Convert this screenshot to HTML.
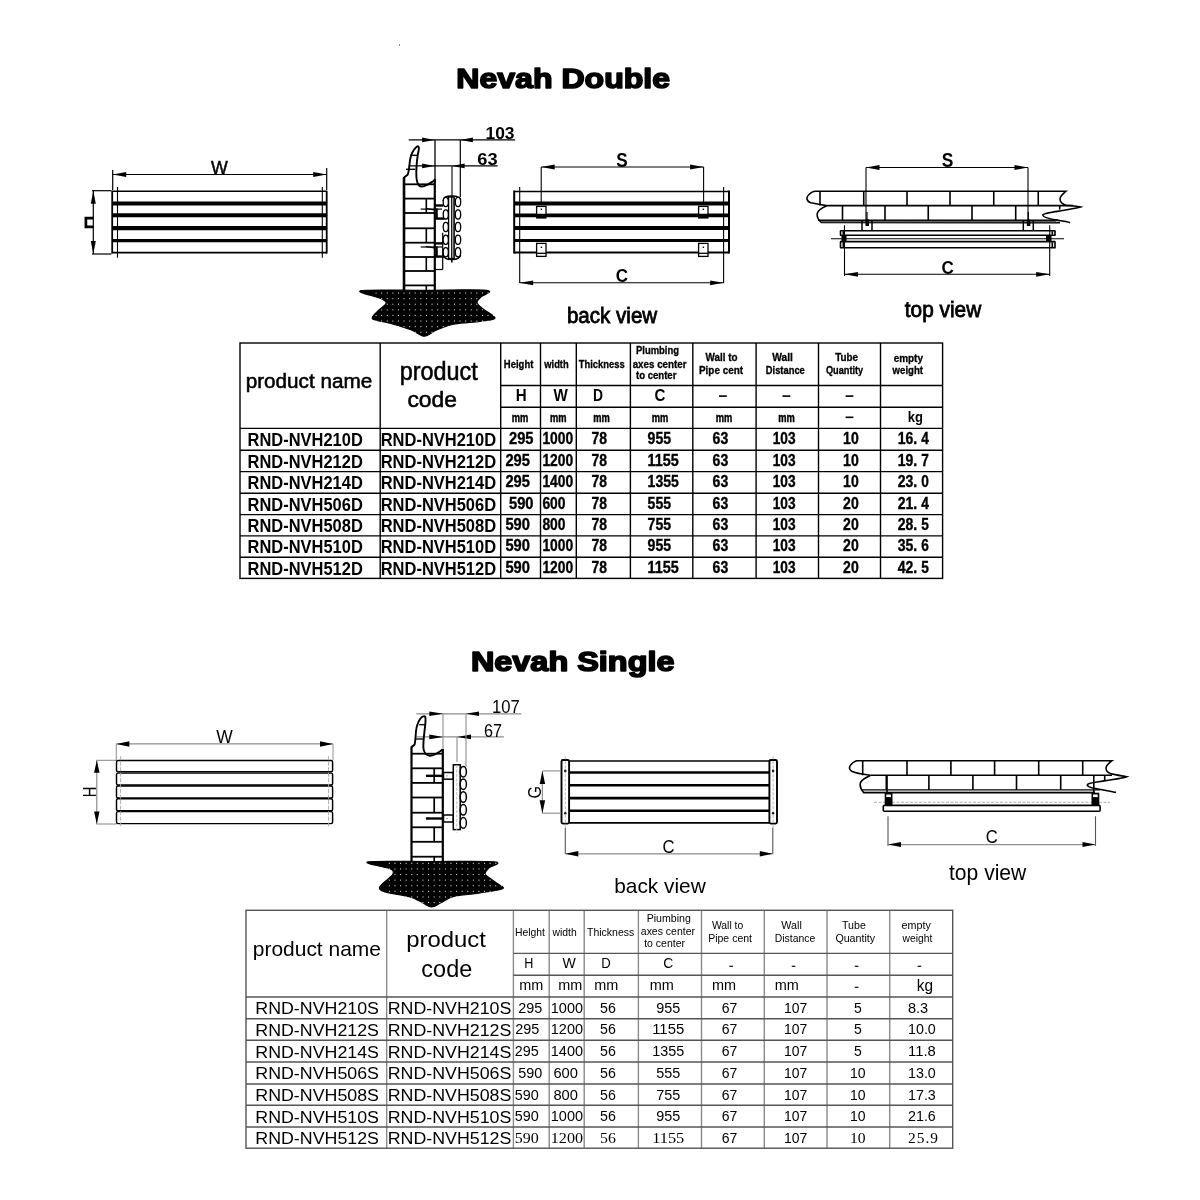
<!DOCTYPE html>
<html><head><meta charset="utf-8"><title>Nevah</title>
<style>html,body{margin:0;padding:0;background:#fff;} svg{display:block;will-change:transform;}</style></head>
<body><svg width="1200" height="1200" viewBox="0 0 1200 1200">
<rect width="1200" height="1200" fill="#fff"/>
<text x="456.3" y="88.2" font-size="28" font-family="Liberation Sans" font-weight="bold" text-anchor="start" fill="#000" textLength="213.8" lengthAdjust="spacingAndGlyphs" stroke="#000" stroke-width="1.6" stroke-linejoin="round">Nevah Double</text>
<rect x="399" y="44" width="1" height="2" fill="#888" />
<line x1="112.7" y1="174.5" x2="326.7" y2="174.5" stroke="#000" stroke-width="1.2" />
<path d="M112.7,174.5 L126.20,172.10 L126.20,176.90 Z" fill="#000"/>
<path d="M326.7,174.5 L313.20,176.90 L313.20,172.10 Z" fill="#000"/>
<line x1="112.7" y1="170" x2="112.7" y2="190" stroke="#000" stroke-width="1.2" />
<line x1="326.7" y1="168" x2="326.7" y2="190" stroke="#000" stroke-width="1.2" />
<text x="219.4" y="173.9" font-size="19.2" font-family="Liberation Sans" font-weight="normal" text-anchor="middle" fill="#000" textLength="16.8" lengthAdjust="spacingAndGlyphs" stroke="#000" stroke-width="0.5">W</text>
<line x1="93.3" y1="190.7" x2="93.3" y2="254" stroke="#000" stroke-width="1.2" />
<path d="M93.3,190.7 L95.80,203.70 L90.80,203.70 Z" fill="#000"/>
<path d="M93.3,254 L90.80,241.00 L95.80,241.00 Z" fill="#000"/>
<line x1="92" y1="190.7" x2="111.5" y2="190.7" stroke="#000" stroke-width="1.2" />
<line x1="92" y1="254" x2="111.5" y2="254" stroke="#000" stroke-width="1.2" />
<path d="M93.5,218.2 H85.9 V226.8 H93.5" stroke="#000" stroke-width="2.7" fill="none" />
<line x1="112.2" y1="190.8" x2="112.2" y2="253.5" stroke="#000" stroke-width="1.8" />
<line x1="326.7" y1="190.8" x2="326.7" y2="253.5" stroke="#000" stroke-width="1.8" />
<line x1="117.5" y1="187" x2="117.5" y2="257.7" stroke="#000" stroke-width="1.1" />
<line x1="322.3" y1="187" x2="322.3" y2="257.7" stroke="#000" stroke-width="1.1" />
<line x1="112.2" y1="191.3" x2="326.7" y2="191.3" stroke="#000" stroke-width="1.5" />
<line x1="112.2" y1="203.5" x2="326.7" y2="203.5" stroke="#000" stroke-width="4" />
<line x1="112.2" y1="215.3" x2="326.7" y2="215.3" stroke="#000" stroke-width="4" />
<line x1="112.2" y1="228.2" x2="326.7" y2="228.2" stroke="#000" stroke-width="4.2" />
<line x1="112.2" y1="240.7" x2="326.7" y2="240.7" stroke="#000" stroke-width="3.2" />
<line x1="112.2" y1="252.7" x2="326.7" y2="252.7" stroke="#000" stroke-width="1.8" />
<line x1="408.7" y1="139.9" x2="515.2" y2="139.9" stroke="#000" stroke-width="1.2" />
<path d="M434.6,139.9 L422.10,142.20 L422.10,137.60 Z" fill="#000"/>
<path d="M460.4,139.9 L472.90,137.60 L472.90,142.20 Z" fill="#000"/>
<text x="485.5" y="138.8" font-size="16.5" font-family="Liberation Sans" font-weight="bold" text-anchor="start" fill="#000" textLength="29" lengthAdjust="spacingAndGlyphs" >103</text>
<line x1="408.7" y1="165.9" x2="497.6" y2="165.9" stroke="#000" stroke-width="1.2" />
<path d="M434.6,165.9 L422.10,168.20 L422.10,163.60 Z" fill="#000"/>
<path d="M452.1,165.9 L464.60,163.60 L464.60,168.20 Z" fill="#000"/>
<text x="477.3" y="164.6" font-size="16.5" font-family="Liberation Sans" font-weight="bold" text-anchor="start" fill="#000" textLength="20.3" lengthAdjust="spacingAndGlyphs" >63</text>
<line x1="435" y1="139.9" x2="435" y2="182" stroke="#000" stroke-width="1.3" />
<line x1="460.3" y1="139.9" x2="460.3" y2="197" stroke="#000" stroke-width="1.2" />
<line x1="452" y1="165.9" x2="452" y2="262.4" stroke="#000" stroke-width="1.1" />
<line x1="404" y1="177.5" x2="404" y2="290.5" stroke="#000" stroke-width="2.6" />
<line x1="434.8" y1="179" x2="434.8" y2="290.5" stroke="#000" stroke-width="2.2" />
<path d="M403.7,178.5 C404.5,176 407,176 407.8,174.5 C409,171 409.3,166 410,160 C411,154 414,149 417,146.5 C419,145.5 419.2,148 418.6,150.5 C417,158 416.5,165 416.3,172 C416.2,178 416.5,183 419,185.5 C421,187.5 424,186.5 427,185 C430,183.5 432.5,181.5 435,180" stroke="#000" stroke-width="1.9" fill="none" />
<line x1="410.3" y1="155.3" x2="417" y2="155.3" stroke="#000" stroke-width="1.4" />
<line x1="406" y1="169.3" x2="415.3" y2="169.3" stroke="#000" stroke-width="1.4" />
<line x1="405" y1="184.3" x2="434" y2="184.3" stroke="#000" stroke-width="1.8" />
<line x1="405" y1="198.6" x2="434" y2="198.6" stroke="#000" stroke-width="1.8" />
<line x1="405" y1="213" x2="434" y2="213" stroke="#000" stroke-width="1.8" />
<line x1="405" y1="228.3" x2="434" y2="228.3" stroke="#000" stroke-width="1.8" />
<line x1="405" y1="242.7" x2="434" y2="242.7" stroke="#000" stroke-width="1.8" />
<line x1="405" y1="257" x2="434" y2="257" stroke="#000" stroke-width="1.8" />
<line x1="405" y1="271" x2="434" y2="271" stroke="#000" stroke-width="1.8" />
<line x1="405" y1="285.4" x2="434" y2="285.4" stroke="#000" stroke-width="1.8" />
<line x1="426.3" y1="198.6" x2="426.3" y2="213" stroke="#000" stroke-width="1.6" />
<line x1="426.3" y1="228.3" x2="426.3" y2="242.7" stroke="#000" stroke-width="1.6" />
<line x1="426.3" y1="257" x2="426.3" y2="271" stroke="#000" stroke-width="1.6" />
<line x1="426.3" y1="285.4" x2="426.3" y2="290" stroke="#000" stroke-width="1.6" />
<line x1="435" y1="205.5" x2="443.5" y2="205.5" stroke="#000" stroke-width="2.4" />
<line x1="435" y1="218.6" x2="444.5" y2="218.6" stroke="#000" stroke-width="2.4" />
<line x1="436.8" y1="208.5" x2="436.8" y2="218.6" stroke="#000" stroke-width="2" />
<line x1="420.7" y1="209.1" x2="442" y2="209.1" stroke="#000" stroke-width="1.2" />
<path d="M426,208.7 C429,208.3 431,210.1 435,209.9" stroke="#000" stroke-width="1.3" fill="none" />
<line x1="435" y1="243.4" x2="443.5" y2="243.4" stroke="#000" stroke-width="2.4" />
<line x1="435" y1="256.6" x2="444.5" y2="256.6" stroke="#000" stroke-width="2.4" />
<line x1="436.8" y1="246.4" x2="436.8" y2="256.6" stroke="#000" stroke-width="2" />
<line x1="420.7" y1="247.0" x2="442" y2="247.0" stroke="#000" stroke-width="1.2" />
<path d="M426,246.6 C429,246.20000000000002 431,248.0 435,247.8" stroke="#000" stroke-width="1.3" fill="none" />
<line x1="442.7" y1="232.7" x2="442.7" y2="269.5" stroke="#000" stroke-width="1.2" />
<line x1="435" y1="269.5" x2="442.7" y2="269.5" stroke="#000" stroke-width="1.2" />
<path d="M443.2,201 C443.5,197 446,196 451.8,196 C457.5,196 460.2,197 460.6,200" stroke="#000" stroke-width="1.5" fill="none" />
<path d="M443.4,254 C443.8,258.5 446,259.5 451.8,259.5 C457.5,259.5 460,258.5 460.6,255" stroke="#000" stroke-width="1.5" fill="none" />
<ellipse cx="445.8" cy="202" rx="2.6" ry="4.6" stroke="#000" stroke-width="1.3" fill="#fff"/>
<ellipse cx="458" cy="202" rx="2.7" ry="4.6" stroke="#000" stroke-width="1.3" fill="#fff"/>
<ellipse cx="445.8" cy="214.4" rx="2.6" ry="4.6" stroke="#000" stroke-width="1.3" fill="#fff"/>
<ellipse cx="458" cy="214.4" rx="2.7" ry="4.6" stroke="#000" stroke-width="1.3" fill="#fff"/>
<ellipse cx="445.8" cy="227" rx="2.6" ry="4.6" stroke="#000" stroke-width="1.3" fill="#fff"/>
<ellipse cx="458" cy="227" rx="2.7" ry="4.6" stroke="#000" stroke-width="1.3" fill="#fff"/>
<ellipse cx="445.8" cy="239.7" rx="2.6" ry="4.6" stroke="#000" stroke-width="1.3" fill="#fff"/>
<ellipse cx="458" cy="239.7" rx="2.7" ry="4.6" stroke="#000" stroke-width="1.3" fill="#fff"/>
<ellipse cx="445.8" cy="252.3" rx="2.6" ry="4.6" stroke="#000" stroke-width="1.3" fill="#fff"/>
<ellipse cx="458" cy="252.3" rx="2.7" ry="4.6" stroke="#000" stroke-width="1.3" fill="#fff"/>
<rect x="448.6" y="197" width="5.6" height="61.5" stroke="#000" stroke-width="1.3" fill="#fff" />
<line x1="451.6" y1="197" x2="451.6" y2="262.4" stroke="#000" stroke-width="1" />
<line x1="453.1" y1="197" x2="453.1" y2="258" stroke="#000" stroke-width="0.8" />
<path d="M361.25,290.60 C368.58,289.30 403.17,290.33 424.00,290.30 C444.83,290.27 476.75,289.28 486.25,290.40 C495.75,291.52 482.54,294.98 481.00,297.00 C479.46,299.02 476.67,300.50 477.00,302.50 C477.33,304.50 480.00,306.40 483.00,309.00 C486.00,311.60 495.50,316.05 495.00,318.10 C494.50,320.15 486.67,320.32 480.00,321.30 C473.33,322.28 462.25,322.55 455.00,324.00 C447.75,325.45 441.60,327.97 436.50,330.00 C431.40,332.03 428.57,336.20 424.40,336.20 C420.23,336.20 416.82,332.07 411.50,330.00 C406.18,327.93 398.58,325.47 392.50,323.80 C386.42,322.13 378.33,321.13 375.00,320.00 C371.67,318.87 371.83,318.67 372.50,317.00 C373.17,315.33 376.72,312.32 379.00,310.00 C381.28,307.68 386.03,305.08 386.20,303.10 C386.37,301.12 384.16,300.18 380.00,298.10 C375.84,296.02 353.92,291.90 361.25,290.60 Z" fill="#000" stroke="#000" stroke-width="1.2" stroke-linejoin="round"/>
<g fill="#fff" opacity="0.8">
<rect x="375.50" y="292.50" width="1.1" height="1.1"/>
<rect x="381.10" y="292.50" width="1.1" height="1.1"/>
<rect x="386.70" y="292.50" width="1.1" height="1.1"/>
<rect x="392.30" y="292.50" width="1.1" height="1.1"/>
<rect x="397.90" y="292.50" width="1.1" height="1.1"/>
<rect x="403.50" y="292.50" width="1.1" height="1.1"/>
<rect x="409.10" y="292.50" width="1.1" height="1.1"/>
<rect x="414.70" y="292.50" width="1.1" height="1.1"/>
<rect x="420.30" y="292.50" width="1.1" height="1.1"/>
<rect x="425.90" y="292.50" width="1.1" height="1.1"/>
<rect x="431.50" y="292.50" width="1.1" height="1.1"/>
<rect x="437.10" y="292.50" width="1.1" height="1.1"/>
<rect x="442.70" y="292.50" width="1.1" height="1.1"/>
<rect x="448.30" y="292.50" width="1.1" height="1.1"/>
<rect x="453.90" y="292.50" width="1.1" height="1.1"/>
<rect x="459.50" y="292.50" width="1.1" height="1.1"/>
<rect x="465.10" y="292.50" width="1.1" height="1.1"/>
<rect x="470.70" y="292.50" width="1.1" height="1.1"/>
<rect x="476.30" y="292.50" width="1.1" height="1.1"/>
<rect x="481.90" y="292.50" width="1.1" height="1.1"/>
<rect x="487.50" y="292.50" width="1.1" height="1.1"/>
<rect x="493.10" y="292.50" width="1.1" height="1.1"/>
<rect x="375.50" y="298.10" width="1.1" height="1.1"/>
<rect x="381.10" y="298.10" width="1.1" height="1.1"/>
<rect x="386.70" y="298.10" width="1.1" height="1.1"/>
<rect x="392.30" y="298.10" width="1.1" height="1.1"/>
<rect x="397.90" y="298.10" width="1.1" height="1.1"/>
<rect x="403.50" y="298.10" width="1.1" height="1.1"/>
<rect x="409.10" y="298.10" width="1.1" height="1.1"/>
<rect x="414.70" y="298.10" width="1.1" height="1.1"/>
<rect x="420.30" y="298.10" width="1.1" height="1.1"/>
<rect x="425.90" y="298.10" width="1.1" height="1.1"/>
<rect x="431.50" y="298.10" width="1.1" height="1.1"/>
<rect x="437.10" y="298.10" width="1.1" height="1.1"/>
<rect x="442.70" y="298.10" width="1.1" height="1.1"/>
<rect x="448.30" y="298.10" width="1.1" height="1.1"/>
<rect x="453.90" y="298.10" width="1.1" height="1.1"/>
<rect x="459.50" y="298.10" width="1.1" height="1.1"/>
<rect x="465.10" y="298.10" width="1.1" height="1.1"/>
<rect x="470.70" y="298.10" width="1.1" height="1.1"/>
<rect x="476.30" y="298.10" width="1.1" height="1.1"/>
<rect x="481.90" y="298.10" width="1.1" height="1.1"/>
<rect x="487.50" y="298.10" width="1.1" height="1.1"/>
<rect x="493.10" y="298.10" width="1.1" height="1.1"/>
<rect x="375.50" y="303.70" width="1.1" height="1.1"/>
<rect x="381.10" y="303.70" width="1.1" height="1.1"/>
<rect x="386.70" y="303.70" width="1.1" height="1.1"/>
<rect x="392.30" y="303.70" width="1.1" height="1.1"/>
<rect x="397.90" y="303.70" width="1.1" height="1.1"/>
<rect x="403.50" y="303.70" width="1.1" height="1.1"/>
<rect x="409.10" y="303.70" width="1.1" height="1.1"/>
<rect x="414.70" y="303.70" width="1.1" height="1.1"/>
<rect x="420.30" y="303.70" width="1.1" height="1.1"/>
<rect x="425.90" y="303.70" width="1.1" height="1.1"/>
<rect x="431.50" y="303.70" width="1.1" height="1.1"/>
<rect x="437.10" y="303.70" width="1.1" height="1.1"/>
<rect x="442.70" y="303.70" width="1.1" height="1.1"/>
<rect x="448.30" y="303.70" width="1.1" height="1.1"/>
<rect x="453.90" y="303.70" width="1.1" height="1.1"/>
<rect x="459.50" y="303.70" width="1.1" height="1.1"/>
<rect x="465.10" y="303.70" width="1.1" height="1.1"/>
<rect x="470.70" y="303.70" width="1.1" height="1.1"/>
<rect x="476.30" y="303.70" width="1.1" height="1.1"/>
<rect x="481.90" y="303.70" width="1.1" height="1.1"/>
<rect x="487.50" y="303.70" width="1.1" height="1.1"/>
<rect x="493.10" y="303.70" width="1.1" height="1.1"/>
<rect x="375.50" y="309.30" width="1.1" height="1.1"/>
<rect x="381.10" y="309.30" width="1.1" height="1.1"/>
<rect x="386.70" y="309.30" width="1.1" height="1.1"/>
<rect x="392.30" y="309.30" width="1.1" height="1.1"/>
<rect x="397.90" y="309.30" width="1.1" height="1.1"/>
<rect x="403.50" y="309.30" width="1.1" height="1.1"/>
<rect x="409.10" y="309.30" width="1.1" height="1.1"/>
<rect x="414.70" y="309.30" width="1.1" height="1.1"/>
<rect x="420.30" y="309.30" width="1.1" height="1.1"/>
<rect x="425.90" y="309.30" width="1.1" height="1.1"/>
<rect x="431.50" y="309.30" width="1.1" height="1.1"/>
<rect x="437.10" y="309.30" width="1.1" height="1.1"/>
<rect x="442.70" y="309.30" width="1.1" height="1.1"/>
<rect x="448.30" y="309.30" width="1.1" height="1.1"/>
<rect x="453.90" y="309.30" width="1.1" height="1.1"/>
<rect x="459.50" y="309.30" width="1.1" height="1.1"/>
<rect x="465.10" y="309.30" width="1.1" height="1.1"/>
<rect x="470.70" y="309.30" width="1.1" height="1.1"/>
<rect x="476.30" y="309.30" width="1.1" height="1.1"/>
<rect x="481.90" y="309.30" width="1.1" height="1.1"/>
<rect x="487.50" y="309.30" width="1.1" height="1.1"/>
<rect x="493.10" y="309.30" width="1.1" height="1.1"/>
<rect x="375.50" y="314.90" width="1.1" height="1.1"/>
<rect x="381.10" y="314.90" width="1.1" height="1.1"/>
<rect x="386.70" y="314.90" width="1.1" height="1.1"/>
<rect x="392.30" y="314.90" width="1.1" height="1.1"/>
<rect x="397.90" y="314.90" width="1.1" height="1.1"/>
<rect x="403.50" y="314.90" width="1.1" height="1.1"/>
<rect x="409.10" y="314.90" width="1.1" height="1.1"/>
<rect x="414.70" y="314.90" width="1.1" height="1.1"/>
<rect x="420.30" y="314.90" width="1.1" height="1.1"/>
<rect x="425.90" y="314.90" width="1.1" height="1.1"/>
<rect x="431.50" y="314.90" width="1.1" height="1.1"/>
<rect x="437.10" y="314.90" width="1.1" height="1.1"/>
<rect x="442.70" y="314.90" width="1.1" height="1.1"/>
<rect x="448.30" y="314.90" width="1.1" height="1.1"/>
<rect x="453.90" y="314.90" width="1.1" height="1.1"/>
<rect x="459.50" y="314.90" width="1.1" height="1.1"/>
<rect x="465.10" y="314.90" width="1.1" height="1.1"/>
<rect x="470.70" y="314.90" width="1.1" height="1.1"/>
<rect x="476.30" y="314.90" width="1.1" height="1.1"/>
<rect x="481.90" y="314.90" width="1.1" height="1.1"/>
<rect x="487.50" y="314.90" width="1.1" height="1.1"/>
<rect x="493.10" y="314.90" width="1.1" height="1.1"/>
<rect x="375.50" y="320.50" width="1.1" height="1.1"/>
<rect x="381.10" y="320.50" width="1.1" height="1.1"/>
<rect x="386.70" y="320.50" width="1.1" height="1.1"/>
<rect x="392.30" y="320.50" width="1.1" height="1.1"/>
<rect x="397.90" y="320.50" width="1.1" height="1.1"/>
<rect x="403.50" y="320.50" width="1.1" height="1.1"/>
<rect x="409.10" y="320.50" width="1.1" height="1.1"/>
<rect x="414.70" y="320.50" width="1.1" height="1.1"/>
<rect x="420.30" y="320.50" width="1.1" height="1.1"/>
<rect x="425.90" y="320.50" width="1.1" height="1.1"/>
<rect x="431.50" y="320.50" width="1.1" height="1.1"/>
<rect x="437.10" y="320.50" width="1.1" height="1.1"/>
<rect x="442.70" y="320.50" width="1.1" height="1.1"/>
<rect x="448.30" y="320.50" width="1.1" height="1.1"/>
<rect x="453.90" y="320.50" width="1.1" height="1.1"/>
<rect x="459.50" y="320.50" width="1.1" height="1.1"/>
<rect x="465.10" y="320.50" width="1.1" height="1.1"/>
<rect x="470.70" y="320.50" width="1.1" height="1.1"/>
<rect x="476.30" y="320.50" width="1.1" height="1.1"/>
<rect x="481.90" y="320.50" width="1.1" height="1.1"/>
<rect x="487.50" y="320.50" width="1.1" height="1.1"/>
<rect x="493.10" y="320.50" width="1.1" height="1.1"/>
<rect x="375.50" y="326.10" width="1.1" height="1.1"/>
<rect x="381.10" y="326.10" width="1.1" height="1.1"/>
<rect x="386.70" y="326.10" width="1.1" height="1.1"/>
<rect x="392.30" y="326.10" width="1.1" height="1.1"/>
<rect x="397.90" y="326.10" width="1.1" height="1.1"/>
<rect x="403.50" y="326.10" width="1.1" height="1.1"/>
<rect x="409.10" y="326.10" width="1.1" height="1.1"/>
<rect x="414.70" y="326.10" width="1.1" height="1.1"/>
<rect x="420.30" y="326.10" width="1.1" height="1.1"/>
<rect x="425.90" y="326.10" width="1.1" height="1.1"/>
<rect x="431.50" y="326.10" width="1.1" height="1.1"/>
<rect x="437.10" y="326.10" width="1.1" height="1.1"/>
<rect x="442.70" y="326.10" width="1.1" height="1.1"/>
<rect x="448.30" y="326.10" width="1.1" height="1.1"/>
<rect x="453.90" y="326.10" width="1.1" height="1.1"/>
<rect x="459.50" y="326.10" width="1.1" height="1.1"/>
<rect x="465.10" y="326.10" width="1.1" height="1.1"/>
<rect x="470.70" y="326.10" width="1.1" height="1.1"/>
<rect x="476.30" y="326.10" width="1.1" height="1.1"/>
<rect x="481.90" y="326.10" width="1.1" height="1.1"/>
<rect x="487.50" y="326.10" width="1.1" height="1.1"/>
<rect x="493.10" y="326.10" width="1.1" height="1.1"/>
<rect x="375.50" y="331.70" width="1.1" height="1.1"/>
<rect x="381.10" y="331.70" width="1.1" height="1.1"/>
<rect x="386.70" y="331.70" width="1.1" height="1.1"/>
<rect x="392.30" y="331.70" width="1.1" height="1.1"/>
<rect x="397.90" y="331.70" width="1.1" height="1.1"/>
<rect x="403.50" y="331.70" width="1.1" height="1.1"/>
<rect x="409.10" y="331.70" width="1.1" height="1.1"/>
<rect x="414.70" y="331.70" width="1.1" height="1.1"/>
<rect x="420.30" y="331.70" width="1.1" height="1.1"/>
<rect x="425.90" y="331.70" width="1.1" height="1.1"/>
<rect x="431.50" y="331.70" width="1.1" height="1.1"/>
<rect x="437.10" y="331.70" width="1.1" height="1.1"/>
<rect x="442.70" y="331.70" width="1.1" height="1.1"/>
<rect x="448.30" y="331.70" width="1.1" height="1.1"/>
<rect x="453.90" y="331.70" width="1.1" height="1.1"/>
<rect x="459.50" y="331.70" width="1.1" height="1.1"/>
<rect x="465.10" y="331.70" width="1.1" height="1.1"/>
<rect x="470.70" y="331.70" width="1.1" height="1.1"/>
<rect x="476.30" y="331.70" width="1.1" height="1.1"/>
<rect x="481.90" y="331.70" width="1.1" height="1.1"/>
<rect x="487.50" y="331.70" width="1.1" height="1.1"/>
<rect x="493.10" y="331.70" width="1.1" height="1.1"/>
</g>
<line x1="514.2" y1="190.5" x2="514.2" y2="253.6" stroke="#000" stroke-width="2" />
<line x1="729" y1="190.5" x2="729" y2="253.6" stroke="#000" stroke-width="2" />
<line x1="519.7" y1="187" x2="519.7" y2="283" stroke="#000" stroke-width="1.1" />
<line x1="723.6" y1="187" x2="723.6" y2="283" stroke="#000" stroke-width="1.1" />
<line x1="514.2" y1="191.5" x2="729" y2="191.5" stroke="#000" stroke-width="1.5" />
<line x1="514.2" y1="203.4" x2="729" y2="203.4" stroke="#000" stroke-width="4" />
<line x1="514.2" y1="215.3" x2="729" y2="215.3" stroke="#000" stroke-width="3.8" />
<line x1="514.2" y1="228.1" x2="729" y2="228.1" stroke="#000" stroke-width="4" />
<line x1="514.2" y1="240.5" x2="729" y2="240.5" stroke="#000" stroke-width="3.2" />
<line x1="514.2" y1="252.5" x2="729" y2="252.5" stroke="#000" stroke-width="2" />
<rect x="536.6" y="206.4" width="9.4" height="8" stroke="#000" stroke-width="1.3" fill="#fff" />
<rect x="536.1" y="214" width="10.4" height="4.6" fill="#000" />
<rect x="540.7" y="208.6" width="1.4" height="1.4" fill="#000" />
<rect x="536.6" y="243.4" width="9.4" height="13" stroke="#000" stroke-width="1.3" fill="#fff" />
<line x1="536.6" y1="253.3" x2="546.0" y2="253.3" stroke="#000" stroke-width="1.3" />
<rect x="540.7" y="246.6" width="1.4" height="1.4" fill="#000" />
<rect x="698.6" y="206.4" width="9.4" height="8" stroke="#000" stroke-width="1.3" fill="#fff" />
<rect x="698.1" y="214" width="10.4" height="4.6" fill="#000" />
<rect x="702.7" y="208.6" width="1.4" height="1.4" fill="#000" />
<rect x="698.6" y="243.4" width="9.4" height="13" stroke="#000" stroke-width="1.3" fill="#fff" />
<line x1="698.6" y1="253.3" x2="708.0" y2="253.3" stroke="#000" stroke-width="1.3" />
<rect x="702.7" y="246.6" width="1.4" height="1.4" fill="#000" />
<line x1="541.2" y1="167" x2="703.6" y2="167" stroke="#000" stroke-width="1.1" />
<path d="M541.2,167 L554.70,164.60 L554.70,169.40 Z" fill="#000"/>
<path d="M703.6,167 L690.10,169.40 L690.10,164.60 Z" fill="#000"/>
<line x1="541.2" y1="167" x2="541.2" y2="203" stroke="#000" stroke-width="1.1" />
<line x1="703.6" y1="167" x2="703.6" y2="203" stroke="#000" stroke-width="1.1" />
<text x="622" y="166.9" font-size="19.5" font-family="Liberation Sans" font-weight="bold" text-anchor="middle" fill="#000" textLength="11.4" lengthAdjust="spacingAndGlyphs" >S</text>
<line x1="519.7" y1="282.8" x2="723.6" y2="282.8" stroke="#000" stroke-width="1.1" />
<path d="M519.7,282.8 L533.20,280.40 L533.20,285.20 Z" fill="#000"/>
<path d="M723.6,282.8 L710.10,285.20 L710.10,280.40 Z" fill="#000"/>
<text x="621.8" y="282.3" font-size="19" font-family="Liberation Sans" font-weight="bold" text-anchor="middle" fill="#000" textLength="12.3" lengthAdjust="spacingAndGlyphs" >C</text>
<text x="566.9" y="322.9" font-size="21.5" font-family="Liberation Sans" font-weight="normal" text-anchor="start" fill="#000" textLength="90.3" lengthAdjust="spacingAndGlyphs" stroke="#000" stroke-width="0.8">back view</text>
<path d="M826.7,205.6 C820,205 815,203.5 810.7,202.7 C806,201 806,197 809,194.5 C811,192.5 813,191.2 815,191.2 L1066,191.2 C1063,194 1060,196 1060,199 C1060,202 1062,204 1066,205.2 C1072,205.8 1076,206 1080.7,207 C1078,208 1070,209.3 1060,211 C1050,212.5 1043,213.5 1042.7,215 C1043,217 1050,219 1058,220.3 C1063,221 1068,221.8 1070,222.7" stroke="#000" stroke-width="1.6" fill="none" />
<line x1="826.7" y1="205.6" x2="1073.3" y2="205.6" stroke="#000" stroke-width="1.6" />
<path d="M826.7,205.8 C823,207.5 818,210.5 817.3,213.3 C816.8,216 817.3,219 821.3,222.5 L1060,222.6" stroke="#000" stroke-width="1.6" fill="none" />
<line x1="818" y1="220.2" x2="1058" y2="220.2" stroke="#000" stroke-width="1.6" />
<rect x="821" y="220.9" width="235" height="1.4" fill="#666" />
<line x1="820" y1="191.2" x2="820" y2="205.6" stroke="#000" stroke-width="1.6" />
<line x1="863.75" y1="191.2" x2="863.75" y2="205.6" stroke="#000" stroke-width="1.6" />
<line x1="907" y1="191.2" x2="907" y2="205.6" stroke="#000" stroke-width="1.6" />
<line x1="950" y1="191.2" x2="950" y2="205.6" stroke="#000" stroke-width="1.6" />
<line x1="993.75" y1="191.2" x2="993.75" y2="205.6" stroke="#000" stroke-width="1.6" />
<line x1="1038.25" y1="191.2" x2="1038.25" y2="205.6" stroke="#000" stroke-width="1.6" />
<line x1="842.5" y1="205.6" x2="842.5" y2="220.2" stroke="#000" stroke-width="1.6" />
<line x1="885" y1="205.6" x2="885" y2="220.2" stroke="#000" stroke-width="1.6" />
<line x1="928.25" y1="205.6" x2="928.25" y2="220.2" stroke="#000" stroke-width="1.6" />
<line x1="972" y1="205.6" x2="972" y2="220.2" stroke="#000" stroke-width="1.6" />
<line x1="1015.7" y1="205.6" x2="1015.7" y2="220.2" stroke="#000" stroke-width="1.6" />
<line x1="1059.7" y1="205.6" x2="1059.7" y2="209.6" stroke="#000" stroke-width="1.6" />
<rect x="840.5" y="230.7" width="214.5" height="4.600000000000023" rx="0.4" stroke="#000" stroke-width="1.6" fill="#fff"/>
<rect x="842.5" y="231.29999999999998" width="1.6" height="3.4000000000000226" fill="#000" />
<rect x="1051.5" y="231.29999999999998" width="1.6" height="3.4000000000000226" fill="#000" />
<rect x="840.5" y="241.6" width="214.5" height="6.200000000000017" rx="0.4" stroke="#000" stroke-width="1.6" fill="#fff"/>
<rect x="842.5" y="242.2" width="1.6" height="5.000000000000017" fill="#000" />
<rect x="1051.5" y="242.2" width="1.6" height="5.000000000000017" fill="#000" />
<line x1="831" y1="238.7" x2="1064" y2="238.7" stroke="#000" stroke-width="1.1" />
<rect x="841.5" y="235.5" width="5" height="6" fill="#000" />
<rect x="1046" y="235.5" width="5.5" height="6" fill="#000" />
<line x1="844.5" y1="225.3" x2="844.5" y2="276" stroke="#000" stroke-width="1.1" />
<line x1="1049.7" y1="225.3" x2="1049.7" y2="276" stroke="#000" stroke-width="1.1" />
<line x1="862" y1="220" x2="862" y2="230.5" stroke="#000" stroke-width="1.5" />
<line x1="872" y1="220" x2="872" y2="230.5" stroke="#000" stroke-width="1.5" />
<rect x="865.5" y="219.5" width="3.5" height="6.5" fill="#000" />
<line x1="867" y1="212" x2="867" y2="226" stroke="#000" stroke-width="1.2" />
<line x1="1023.3" y1="220" x2="1023.3" y2="230.5" stroke="#000" stroke-width="1.5" />
<line x1="1033.3" y1="220" x2="1033.3" y2="230.5" stroke="#000" stroke-width="1.5" />
<rect x="1026.8" y="219.5" width="3.5" height="6.5" fill="#000" />
<line x1="1028.3" y1="212" x2="1028.3" y2="226" stroke="#000" stroke-width="1.2" />
<line x1="866" y1="167.5" x2="1028" y2="167.5" stroke="#000" stroke-width="1.1" />
<path d="M866,167.5 L879.50,165.10 L879.50,169.90 Z" fill="#000"/>
<path d="M1028,167.5 L1014.50,169.90 L1014.50,165.10 Z" fill="#000"/>
<line x1="866" y1="167.5" x2="866" y2="220" stroke="#000" stroke-width="1.1" />
<line x1="1028" y1="167.5" x2="1028" y2="220" stroke="#000" stroke-width="1.1" />
<text x="947.6" y="167.2" font-size="19.5" font-family="Liberation Sans" font-weight="bold" text-anchor="middle" fill="#000" textLength="11.6" lengthAdjust="spacingAndGlyphs" >S</text>
<line x1="844.5" y1="274.3" x2="1049.7" y2="274.3" stroke="#000" stroke-width="1.1" />
<path d="M844.5,274.3 L858.00,271.90 L858.00,276.70 Z" fill="#000"/>
<path d="M1049.7,274.3 L1036.20,276.70 L1036.20,271.90 Z" fill="#000"/>
<text x="947.6" y="273.8" font-size="19" font-family="Liberation Sans" font-weight="bold" text-anchor="middle" fill="#000" textLength="12.3" lengthAdjust="spacingAndGlyphs" >C</text>
<text x="904.8" y="317.3" font-size="22" font-family="Liberation Sans" font-weight="normal" text-anchor="start" fill="#000" textLength="76.4" lengthAdjust="spacingAndGlyphs" stroke="#000" stroke-width="0.8">top view</text>
<line x1="380.2" y1="343" x2="380.2" y2="578.4" stroke="#000" stroke-width="1.4" />
<line x1="500.7" y1="343" x2="500.7" y2="578.4" stroke="#000" stroke-width="1.4" />
<line x1="540.5" y1="343" x2="540.5" y2="578.4" stroke="#000" stroke-width="1.4" />
<line x1="576.3" y1="343" x2="576.3" y2="578.4" stroke="#000" stroke-width="1.4" />
<line x1="630.4" y1="343" x2="630.4" y2="578.4" stroke="#000" stroke-width="1.4" />
<line x1="692.8" y1="343" x2="692.8" y2="578.4" stroke="#000" stroke-width="1.4" />
<line x1="756.1" y1="343" x2="756.1" y2="578.4" stroke="#000" stroke-width="1.4" />
<line x1="818.5" y1="343" x2="818.5" y2="578.4" stroke="#000" stroke-width="1.4" />
<line x1="880.5" y1="343" x2="880.5" y2="578.4" stroke="#000" stroke-width="1.4" />
<line x1="500.7" y1="385.5" x2="942.6" y2="385.5" stroke="#000" stroke-width="1.4" />
<line x1="500.7" y1="407.2" x2="942.6" y2="407.2" stroke="#000" stroke-width="1.4" />
<line x1="240" y1="428.4" x2="942.6" y2="428.4" stroke="#000" stroke-width="1.4" />
<line x1="240" y1="450.3" x2="942.6" y2="450.3" stroke="#000" stroke-width="1.4" />
<line x1="240" y1="471.6" x2="942.6" y2="471.6" stroke="#000" stroke-width="1.4" />
<line x1="240" y1="493.2" x2="942.6" y2="493.2" stroke="#000" stroke-width="1.4" />
<line x1="240" y1="514.6" x2="942.6" y2="514.6" stroke="#000" stroke-width="1.4" />
<line x1="240" y1="535.9" x2="942.6" y2="535.9" stroke="#000" stroke-width="1.4" />
<line x1="240" y1="557.3" x2="942.6" y2="557.3" stroke="#000" stroke-width="1.4" />
<rect x="240" y="343" width="702.6" height="235.39999999999998" stroke="#000" stroke-width="1.4" fill="none" />
<text x="245.7" y="388" font-size="20.7" font-family="Liberation Sans" font-weight="normal" text-anchor="start" fill="#000" textLength="126.5" lengthAdjust="spacingAndGlyphs" stroke="#000" stroke-width="0.55">product name</text>
<text x="438.7" y="379.6" font-size="25" font-family="Liberation Sans" font-weight="normal" text-anchor="middle" fill="#000" textLength="78" lengthAdjust="spacingAndGlyphs" stroke="#000" stroke-width="0.55">product</text>
<text x="432.2" y="407.1" font-size="22.5" font-family="Liberation Sans" font-weight="normal" text-anchor="middle" fill="#000" textLength="49.6" lengthAdjust="spacingAndGlyphs" stroke="#000" stroke-width="0.55">code</text>
<text x="518.6" y="367.8" font-size="10.3" font-family="Liberation Sans" font-weight="bold" text-anchor="middle" fill="#000" textLength="29.5" lengthAdjust="spacingAndGlyphs" stroke="#000" stroke-width="0.3">Height</text>
<text x="556.5" y="367.8" font-size="10.3" font-family="Liberation Sans" font-weight="bold" text-anchor="middle" fill="#000" textLength="24.4" lengthAdjust="spacingAndGlyphs" stroke="#000" stroke-width="0.3">width</text>
<text x="601.7" y="367.8" font-size="10.3" font-family="Liberation Sans" font-weight="bold" text-anchor="middle" fill="#000" textLength="45.8" lengthAdjust="spacingAndGlyphs" stroke="#000" stroke-width="0.3">Thickness</text>
<text x="657.5" y="354.3" font-size="10.3" font-family="Liberation Sans" font-weight="bold" text-anchor="middle" fill="#000" textLength="43" lengthAdjust="spacingAndGlyphs" stroke="#000" stroke-width="0.3">Plumbing</text>
<text x="659.6" y="367.8" font-size="10.3" font-family="Liberation Sans" font-weight="bold" text-anchor="middle" fill="#000" textLength="53.8" lengthAdjust="spacingAndGlyphs" stroke="#000" stroke-width="0.3">axes center</text>
<text x="656.2" y="378.8" font-size="10.3" font-family="Liberation Sans" font-weight="bold" text-anchor="middle" fill="#000" textLength="40.5" lengthAdjust="spacingAndGlyphs" stroke="#000" stroke-width="0.3">to center</text>
<text x="721.6" y="361.2" font-size="10.3" font-family="Liberation Sans" font-weight="bold" text-anchor="middle" fill="#000" textLength="32" lengthAdjust="spacingAndGlyphs" stroke="#000" stroke-width="0.3">Wall to</text>
<text x="721" y="374" font-size="10.3" font-family="Liberation Sans" font-weight="bold" text-anchor="middle" fill="#000" textLength="44" lengthAdjust="spacingAndGlyphs" stroke="#000" stroke-width="0.3">Pipe cent</text>
<text x="782.6" y="361.2" font-size="10.3" font-family="Liberation Sans" font-weight="bold" text-anchor="middle" fill="#000" textLength="20.7" lengthAdjust="spacingAndGlyphs" stroke="#000" stroke-width="0.3">Wall</text>
<text x="785.3" y="374" font-size="10.3" font-family="Liberation Sans" font-weight="bold" text-anchor="middle" fill="#000" textLength="39" lengthAdjust="spacingAndGlyphs" stroke="#000" stroke-width="0.3">Distance</text>
<text x="846.6" y="361.2" font-size="10.3" font-family="Liberation Sans" font-weight="bold" text-anchor="middle" fill="#000" textLength="22.8" lengthAdjust="spacingAndGlyphs" stroke="#000" stroke-width="0.3">Tube</text>
<text x="844.6" y="374" font-size="10.3" font-family="Liberation Sans" font-weight="bold" text-anchor="middle" fill="#000" textLength="37.3" lengthAdjust="spacingAndGlyphs" stroke="#000" stroke-width="0.3">Quantity</text>
<text x="908.3" y="361.5" font-size="10.3" font-family="Liberation Sans" font-weight="bold" text-anchor="middle" fill="#000" textLength="29.3" lengthAdjust="spacingAndGlyphs" stroke="#000" stroke-width="0.3">empty</text>
<text x="907.8" y="374" font-size="10.3" font-family="Liberation Sans" font-weight="bold" text-anchor="middle" fill="#000" textLength="30.4" lengthAdjust="spacingAndGlyphs" stroke="#000" stroke-width="0.3">weight</text>
<text x="521.1" y="400.6" font-size="16" font-family="Liberation Sans" font-weight="bold" text-anchor="middle" fill="#000" textLength="10.9" lengthAdjust="spacingAndGlyphs" >H</text>
<text x="560.7" y="400.6" font-size="16" font-family="Liberation Sans" font-weight="bold" text-anchor="middle" fill="#000" textLength="14.3" lengthAdjust="spacingAndGlyphs" >W</text>
<text x="598" y="400.6" font-size="16" font-family="Liberation Sans" font-weight="bold" text-anchor="middle" fill="#000" textLength="10" lengthAdjust="spacingAndGlyphs" >D</text>
<text x="660" y="400.6" font-size="16" font-family="Liberation Sans" font-weight="bold" text-anchor="middle" fill="#000" textLength="10.9" lengthAdjust="spacingAndGlyphs" >C</text>
<rect x="719.0" y="395.3" width="7.8" height="1.6" fill="#000" />
<rect x="782.5" y="395.3" width="7.8" height="1.6" fill="#000" />
<rect x="845.6" y="395.3" width="7.8" height="1.6" fill="#000" />
<text x="519.9" y="422.4" font-size="12" font-family="Liberation Sans" font-weight="bold" text-anchor="middle" fill="#000" textLength="16.5" lengthAdjust="spacingAndGlyphs" stroke="#000" stroke-width="0.45">mm</text>
<text x="558.3" y="422.4" font-size="12" font-family="Liberation Sans" font-weight="bold" text-anchor="middle" fill="#000" textLength="16.5" lengthAdjust="spacingAndGlyphs" stroke="#000" stroke-width="0.45">mm</text>
<text x="601.5" y="422.4" font-size="12" font-family="Liberation Sans" font-weight="bold" text-anchor="middle" fill="#000" textLength="16.5" lengthAdjust="spacingAndGlyphs" stroke="#000" stroke-width="0.45">mm</text>
<text x="660" y="422.4" font-size="12" font-family="Liberation Sans" font-weight="bold" text-anchor="middle" fill="#000" textLength="16.5" lengthAdjust="spacingAndGlyphs" stroke="#000" stroke-width="0.45">mm</text>
<text x="724.1" y="422.4" font-size="12" font-family="Liberation Sans" font-weight="bold" text-anchor="middle" fill="#000" textLength="16.5" lengthAdjust="spacingAndGlyphs" stroke="#000" stroke-width="0.45">mm</text>
<text x="786.4" y="422.4" font-size="12" font-family="Liberation Sans" font-weight="bold" text-anchor="middle" fill="#000" textLength="16.5" lengthAdjust="spacingAndGlyphs" stroke="#000" stroke-width="0.45">mm</text>
<rect x="845.6" y="416.5" width="7.8" height="1.6" fill="#000" />
<text x="915.4" y="422.4" font-size="15" font-family="Liberation Sans" font-weight="bold" text-anchor="middle" fill="#000" textLength="15.2" lengthAdjust="spacingAndGlyphs" >kg</text>
<text x="247.6" y="445.7" font-size="18" font-family="Liberation Sans" font-weight="bold" text-anchor="start" fill="#000" textLength="115.2" lengthAdjust="spacingAndGlyphs" >RND-NVH210D</text>
<text x="380.7" y="445.7" font-size="18" font-family="Liberation Sans" font-weight="bold" text-anchor="start" fill="#000" textLength="115.4" lengthAdjust="spacingAndGlyphs" >RND-NVH210D</text>
<text x="509" y="443.79999999999995" font-size="15.8" font-family="Liberation Sans" font-weight="bold" text-anchor="start" fill="#000" textLength="24.5" lengthAdjust="spacingAndGlyphs" stroke="#000" stroke-width="0.35">295</text>
<text x="542.4" y="443.79999999999995" font-size="15.8" font-family="Liberation Sans" font-weight="bold" text-anchor="start" fill="#000" textLength="30.8" lengthAdjust="spacingAndGlyphs" stroke="#000" stroke-width="0.35">1000</text>
<text x="599.3" y="443.79999999999995" font-size="15.8" font-family="Liberation Sans" font-weight="bold" text-anchor="middle" fill="#000" textLength="15.5" lengthAdjust="spacingAndGlyphs" stroke="#000" stroke-width="0.35">78</text>
<text x="647.6" y="443.79999999999995" font-size="15.8" font-family="Liberation Sans" font-weight="bold" text-anchor="start" fill="#000" textLength="23.4" lengthAdjust="spacingAndGlyphs" stroke="#000" stroke-width="0.35">955</text>
<text x="720.4" y="443.79999999999995" font-size="15.8" font-family="Liberation Sans" font-weight="bold" text-anchor="middle" fill="#000" textLength="15.6" lengthAdjust="spacingAndGlyphs" stroke="#000" stroke-width="0.35">63</text>
<text x="784.1" y="443.79999999999995" font-size="15.8" font-family="Liberation Sans" font-weight="bold" text-anchor="middle" fill="#000" textLength="22.8" lengthAdjust="spacingAndGlyphs" stroke="#000" stroke-width="0.35">103</text>
<text x="850.9" y="443.79999999999995" font-size="15.8" font-family="Liberation Sans" font-weight="bold" text-anchor="middle" fill="#000" textLength="15.6" lengthAdjust="spacingAndGlyphs" stroke="#000" stroke-width="0.35">10</text>
<text x="897.7" y="443.79999999999995" font-size="15.8" font-family="Liberation Sans" font-weight="bold" text-anchor="start" fill="#000" textLength="19.5" lengthAdjust="spacingAndGlyphs" stroke="#000" stroke-width="0.35">16.</text>
<text x="928.8" y="443.79999999999995" font-size="15.8" font-family="Liberation Sans" font-weight="bold" text-anchor="end" fill="#000" textLength="7.6" lengthAdjust="spacingAndGlyphs" stroke="#000" stroke-width="0.35">4</text>
<text x="247.6" y="467.6" font-size="18" font-family="Liberation Sans" font-weight="bold" text-anchor="start" fill="#000" textLength="115.2" lengthAdjust="spacingAndGlyphs" >RND-NVH212D</text>
<text x="380.7" y="467.6" font-size="18" font-family="Liberation Sans" font-weight="bold" text-anchor="start" fill="#000" textLength="115.4" lengthAdjust="spacingAndGlyphs" >RND-NVH212D</text>
<text x="505.4" y="465.7" font-size="15.8" font-family="Liberation Sans" font-weight="bold" text-anchor="start" fill="#000" textLength="24.5" lengthAdjust="spacingAndGlyphs" stroke="#000" stroke-width="0.35">295</text>
<text x="542.4" y="465.7" font-size="15.8" font-family="Liberation Sans" font-weight="bold" text-anchor="start" fill="#000" textLength="30.8" lengthAdjust="spacingAndGlyphs" stroke="#000" stroke-width="0.35">1200</text>
<text x="599.3" y="465.7" font-size="15.8" font-family="Liberation Sans" font-weight="bold" text-anchor="middle" fill="#000" textLength="15.5" lengthAdjust="spacingAndGlyphs" stroke="#000" stroke-width="0.35">78</text>
<text x="647.6" y="465.7" font-size="15.8" font-family="Liberation Sans" font-weight="bold" text-anchor="start" fill="#000" textLength="31.2" lengthAdjust="spacingAndGlyphs" stroke="#000" stroke-width="0.35">1155</text>
<text x="720.4" y="465.7" font-size="15.8" font-family="Liberation Sans" font-weight="bold" text-anchor="middle" fill="#000" textLength="15.6" lengthAdjust="spacingAndGlyphs" stroke="#000" stroke-width="0.35">63</text>
<text x="784.1" y="465.7" font-size="15.8" font-family="Liberation Sans" font-weight="bold" text-anchor="middle" fill="#000" textLength="22.8" lengthAdjust="spacingAndGlyphs" stroke="#000" stroke-width="0.35">103</text>
<text x="850.9" y="465.7" font-size="15.8" font-family="Liberation Sans" font-weight="bold" text-anchor="middle" fill="#000" textLength="15.6" lengthAdjust="spacingAndGlyphs" stroke="#000" stroke-width="0.35">10</text>
<text x="897.7" y="465.7" font-size="15.8" font-family="Liberation Sans" font-weight="bold" text-anchor="start" fill="#000" textLength="19.5" lengthAdjust="spacingAndGlyphs" stroke="#000" stroke-width="0.35">19.</text>
<text x="928.8" y="465.7" font-size="15.8" font-family="Liberation Sans" font-weight="bold" text-anchor="end" fill="#000" textLength="7.6" lengthAdjust="spacingAndGlyphs" stroke="#000" stroke-width="0.35">7</text>
<text x="247.6" y="488.90000000000003" font-size="18" font-family="Liberation Sans" font-weight="bold" text-anchor="start" fill="#000" textLength="115.2" lengthAdjust="spacingAndGlyphs" >RND-NVH214D</text>
<text x="380.7" y="488.90000000000003" font-size="18" font-family="Liberation Sans" font-weight="bold" text-anchor="start" fill="#000" textLength="115.4" lengthAdjust="spacingAndGlyphs" >RND-NVH214D</text>
<text x="505.4" y="487.0" font-size="15.8" font-family="Liberation Sans" font-weight="bold" text-anchor="start" fill="#000" textLength="24.5" lengthAdjust="spacingAndGlyphs" stroke="#000" stroke-width="0.35">295</text>
<text x="542.4" y="487.0" font-size="15.8" font-family="Liberation Sans" font-weight="bold" text-anchor="start" fill="#000" textLength="30.8" lengthAdjust="spacingAndGlyphs" stroke="#000" stroke-width="0.35">1400</text>
<text x="599.3" y="487.0" font-size="15.8" font-family="Liberation Sans" font-weight="bold" text-anchor="middle" fill="#000" textLength="15.5" lengthAdjust="spacingAndGlyphs" stroke="#000" stroke-width="0.35">78</text>
<text x="647.6" y="487.0" font-size="15.8" font-family="Liberation Sans" font-weight="bold" text-anchor="start" fill="#000" textLength="31.2" lengthAdjust="spacingAndGlyphs" stroke="#000" stroke-width="0.35">1355</text>
<text x="720.4" y="487.0" font-size="15.8" font-family="Liberation Sans" font-weight="bold" text-anchor="middle" fill="#000" textLength="15.6" lengthAdjust="spacingAndGlyphs" stroke="#000" stroke-width="0.35">63</text>
<text x="784.1" y="487.0" font-size="15.8" font-family="Liberation Sans" font-weight="bold" text-anchor="middle" fill="#000" textLength="22.8" lengthAdjust="spacingAndGlyphs" stroke="#000" stroke-width="0.35">103</text>
<text x="850.9" y="487.0" font-size="15.8" font-family="Liberation Sans" font-weight="bold" text-anchor="middle" fill="#000" textLength="15.6" lengthAdjust="spacingAndGlyphs" stroke="#000" stroke-width="0.35">10</text>
<text x="897.7" y="487.0" font-size="15.8" font-family="Liberation Sans" font-weight="bold" text-anchor="start" fill="#000" textLength="19.5" lengthAdjust="spacingAndGlyphs" stroke="#000" stroke-width="0.35">23.</text>
<text x="928.8" y="487.0" font-size="15.8" font-family="Liberation Sans" font-weight="bold" text-anchor="end" fill="#000" textLength="7.6" lengthAdjust="spacingAndGlyphs" stroke="#000" stroke-width="0.35">0</text>
<text x="247.6" y="510.5" font-size="18" font-family="Liberation Sans" font-weight="bold" text-anchor="start" fill="#000" textLength="115.2" lengthAdjust="spacingAndGlyphs" >RND-NVH506D</text>
<text x="380.7" y="510.5" font-size="18" font-family="Liberation Sans" font-weight="bold" text-anchor="start" fill="#000" textLength="115.4" lengthAdjust="spacingAndGlyphs" >RND-NVH506D</text>
<text x="509" y="508.59999999999997" font-size="15.8" font-family="Liberation Sans" font-weight="bold" text-anchor="start" fill="#000" textLength="24.5" lengthAdjust="spacingAndGlyphs" stroke="#000" stroke-width="0.35">590</text>
<text x="542.4" y="508.59999999999997" font-size="15.8" font-family="Liberation Sans" font-weight="bold" text-anchor="start" fill="#000" textLength="23.1" lengthAdjust="spacingAndGlyphs" stroke="#000" stroke-width="0.35">600</text>
<text x="599.3" y="508.59999999999997" font-size="15.8" font-family="Liberation Sans" font-weight="bold" text-anchor="middle" fill="#000" textLength="15.5" lengthAdjust="spacingAndGlyphs" stroke="#000" stroke-width="0.35">78</text>
<text x="647.6" y="508.59999999999997" font-size="15.8" font-family="Liberation Sans" font-weight="bold" text-anchor="start" fill="#000" textLength="23.4" lengthAdjust="spacingAndGlyphs" stroke="#000" stroke-width="0.35">555</text>
<text x="720.4" y="508.59999999999997" font-size="15.8" font-family="Liberation Sans" font-weight="bold" text-anchor="middle" fill="#000" textLength="15.6" lengthAdjust="spacingAndGlyphs" stroke="#000" stroke-width="0.35">63</text>
<text x="784.1" y="508.59999999999997" font-size="15.8" font-family="Liberation Sans" font-weight="bold" text-anchor="middle" fill="#000" textLength="22.8" lengthAdjust="spacingAndGlyphs" stroke="#000" stroke-width="0.35">103</text>
<text x="850.9" y="508.59999999999997" font-size="15.8" font-family="Liberation Sans" font-weight="bold" text-anchor="middle" fill="#000" textLength="15.6" lengthAdjust="spacingAndGlyphs" stroke="#000" stroke-width="0.35">20</text>
<text x="897.7" y="508.59999999999997" font-size="15.8" font-family="Liberation Sans" font-weight="bold" text-anchor="start" fill="#000" textLength="19.5" lengthAdjust="spacingAndGlyphs" stroke="#000" stroke-width="0.35">21.</text>
<text x="928.8" y="508.59999999999997" font-size="15.8" font-family="Liberation Sans" font-weight="bold" text-anchor="end" fill="#000" textLength="7.6" lengthAdjust="spacingAndGlyphs" stroke="#000" stroke-width="0.35">4</text>
<text x="247.6" y="531.9" font-size="18" font-family="Liberation Sans" font-weight="bold" text-anchor="start" fill="#000" textLength="115.2" lengthAdjust="spacingAndGlyphs" >RND-NVH508D</text>
<text x="380.7" y="531.9" font-size="18" font-family="Liberation Sans" font-weight="bold" text-anchor="start" fill="#000" textLength="115.4" lengthAdjust="spacingAndGlyphs" >RND-NVH508D</text>
<text x="505.4" y="530.0" font-size="15.8" font-family="Liberation Sans" font-weight="bold" text-anchor="start" fill="#000" textLength="24.5" lengthAdjust="spacingAndGlyphs" stroke="#000" stroke-width="0.35">590</text>
<text x="542.4" y="530.0" font-size="15.8" font-family="Liberation Sans" font-weight="bold" text-anchor="start" fill="#000" textLength="23.1" lengthAdjust="spacingAndGlyphs" stroke="#000" stroke-width="0.35">800</text>
<text x="599.3" y="530.0" font-size="15.8" font-family="Liberation Sans" font-weight="bold" text-anchor="middle" fill="#000" textLength="15.5" lengthAdjust="spacingAndGlyphs" stroke="#000" stroke-width="0.35">78</text>
<text x="647.6" y="530.0" font-size="15.8" font-family="Liberation Sans" font-weight="bold" text-anchor="start" fill="#000" textLength="23.4" lengthAdjust="spacingAndGlyphs" stroke="#000" stroke-width="0.35">755</text>
<text x="720.4" y="530.0" font-size="15.8" font-family="Liberation Sans" font-weight="bold" text-anchor="middle" fill="#000" textLength="15.6" lengthAdjust="spacingAndGlyphs" stroke="#000" stroke-width="0.35">63</text>
<text x="784.1" y="530.0" font-size="15.8" font-family="Liberation Sans" font-weight="bold" text-anchor="middle" fill="#000" textLength="22.8" lengthAdjust="spacingAndGlyphs" stroke="#000" stroke-width="0.35">103</text>
<text x="850.9" y="530.0" font-size="15.8" font-family="Liberation Sans" font-weight="bold" text-anchor="middle" fill="#000" textLength="15.6" lengthAdjust="spacingAndGlyphs" stroke="#000" stroke-width="0.35">20</text>
<text x="897.7" y="530.0" font-size="15.8" font-family="Liberation Sans" font-weight="bold" text-anchor="start" fill="#000" textLength="19.5" lengthAdjust="spacingAndGlyphs" stroke="#000" stroke-width="0.35">28.</text>
<text x="928.8" y="530.0" font-size="15.8" font-family="Liberation Sans" font-weight="bold" text-anchor="end" fill="#000" textLength="7.6" lengthAdjust="spacingAndGlyphs" stroke="#000" stroke-width="0.35">5</text>
<text x="247.6" y="553.1999999999999" font-size="18" font-family="Liberation Sans" font-weight="bold" text-anchor="start" fill="#000" textLength="115.2" lengthAdjust="spacingAndGlyphs" >RND-NVH510D</text>
<text x="380.7" y="553.1999999999999" font-size="18" font-family="Liberation Sans" font-weight="bold" text-anchor="start" fill="#000" textLength="115.4" lengthAdjust="spacingAndGlyphs" >RND-NVH510D</text>
<text x="505.4" y="551.3" font-size="15.8" font-family="Liberation Sans" font-weight="bold" text-anchor="start" fill="#000" textLength="24.5" lengthAdjust="spacingAndGlyphs" stroke="#000" stroke-width="0.35">590</text>
<text x="542.4" y="551.3" font-size="15.8" font-family="Liberation Sans" font-weight="bold" text-anchor="start" fill="#000" textLength="30.8" lengthAdjust="spacingAndGlyphs" stroke="#000" stroke-width="0.35">1000</text>
<text x="599.3" y="551.3" font-size="15.8" font-family="Liberation Sans" font-weight="bold" text-anchor="middle" fill="#000" textLength="15.5" lengthAdjust="spacingAndGlyphs" stroke="#000" stroke-width="0.35">78</text>
<text x="647.6" y="551.3" font-size="15.8" font-family="Liberation Sans" font-weight="bold" text-anchor="start" fill="#000" textLength="23.4" lengthAdjust="spacingAndGlyphs" stroke="#000" stroke-width="0.35">955</text>
<text x="720.4" y="551.3" font-size="15.8" font-family="Liberation Sans" font-weight="bold" text-anchor="middle" fill="#000" textLength="15.6" lengthAdjust="spacingAndGlyphs" stroke="#000" stroke-width="0.35">63</text>
<text x="784.1" y="551.3" font-size="15.8" font-family="Liberation Sans" font-weight="bold" text-anchor="middle" fill="#000" textLength="22.8" lengthAdjust="spacingAndGlyphs" stroke="#000" stroke-width="0.35">103</text>
<text x="850.9" y="551.3" font-size="15.8" font-family="Liberation Sans" font-weight="bold" text-anchor="middle" fill="#000" textLength="15.6" lengthAdjust="spacingAndGlyphs" stroke="#000" stroke-width="0.35">20</text>
<text x="897.7" y="551.3" font-size="15.8" font-family="Liberation Sans" font-weight="bold" text-anchor="start" fill="#000" textLength="19.5" lengthAdjust="spacingAndGlyphs" stroke="#000" stroke-width="0.35">35.</text>
<text x="928.8" y="551.3" font-size="15.8" font-family="Liberation Sans" font-weight="bold" text-anchor="end" fill="#000" textLength="7.6" lengthAdjust="spacingAndGlyphs" stroke="#000" stroke-width="0.35">6</text>
<text x="247.6" y="574.5999999999999" font-size="18" font-family="Liberation Sans" font-weight="bold" text-anchor="start" fill="#000" textLength="115.2" lengthAdjust="spacingAndGlyphs" >RND-NVH512D</text>
<text x="380.7" y="574.5999999999999" font-size="18" font-family="Liberation Sans" font-weight="bold" text-anchor="start" fill="#000" textLength="115.4" lengthAdjust="spacingAndGlyphs" >RND-NVH512D</text>
<text x="505.4" y="572.6999999999999" font-size="15.8" font-family="Liberation Sans" font-weight="bold" text-anchor="start" fill="#000" textLength="24.5" lengthAdjust="spacingAndGlyphs" stroke="#000" stroke-width="0.35">590</text>
<text x="542.4" y="572.6999999999999" font-size="15.8" font-family="Liberation Sans" font-weight="bold" text-anchor="start" fill="#000" textLength="30.8" lengthAdjust="spacingAndGlyphs" stroke="#000" stroke-width="0.35">1200</text>
<text x="599.3" y="572.6999999999999" font-size="15.8" font-family="Liberation Sans" font-weight="bold" text-anchor="middle" fill="#000" textLength="15.5" lengthAdjust="spacingAndGlyphs" stroke="#000" stroke-width="0.35">78</text>
<text x="647.6" y="572.6999999999999" font-size="15.8" font-family="Liberation Sans" font-weight="bold" text-anchor="start" fill="#000" textLength="31.2" lengthAdjust="spacingAndGlyphs" stroke="#000" stroke-width="0.35">1155</text>
<text x="720.4" y="572.6999999999999" font-size="15.8" font-family="Liberation Sans" font-weight="bold" text-anchor="middle" fill="#000" textLength="15.6" lengthAdjust="spacingAndGlyphs" stroke="#000" stroke-width="0.35">63</text>
<text x="784.1" y="572.6999999999999" font-size="15.8" font-family="Liberation Sans" font-weight="bold" text-anchor="middle" fill="#000" textLength="22.8" lengthAdjust="spacingAndGlyphs" stroke="#000" stroke-width="0.35">103</text>
<text x="850.9" y="572.6999999999999" font-size="15.8" font-family="Liberation Sans" font-weight="bold" text-anchor="middle" fill="#000" textLength="15.6" lengthAdjust="spacingAndGlyphs" stroke="#000" stroke-width="0.35">20</text>
<text x="897.7" y="572.6999999999999" font-size="15.8" font-family="Liberation Sans" font-weight="bold" text-anchor="start" fill="#000" textLength="19.5" lengthAdjust="spacingAndGlyphs" stroke="#000" stroke-width="0.35">42.</text>
<text x="928.8" y="572.6999999999999" font-size="15.8" font-family="Liberation Sans" font-weight="bold" text-anchor="end" fill="#000" textLength="7.6" lengthAdjust="spacingAndGlyphs" stroke="#000" stroke-width="0.35">5</text>
<text x="470.9" y="671.4" font-size="27.2" font-family="Liberation Sans" font-weight="bold" text-anchor="start" fill="#000" textLength="203.6" lengthAdjust="spacingAndGlyphs" stroke="#000" stroke-width="1.6" stroke-linejoin="round">Nevah Single</text>
<line x1="116.3" y1="743.9" x2="333" y2="743.9" stroke="#8e8e8e" stroke-width="1.2" />
<path d="M116.3,743.9 L129.30,741.15 L129.30,746.65 Z" fill="#000"/>
<path d="M333,743.9 L320.00,746.65 L320.00,741.15 Z" fill="#000"/>
<line x1="116.3" y1="743.9" x2="116.3" y2="760" stroke="#8e8e8e" stroke-width="1" />
<line x1="333" y1="743.9" x2="333" y2="760" stroke="#8e8e8e" stroke-width="1" />
<text x="224.55" y="743.3" font-size="18.9" font-family="Liberation Sans" font-weight="normal" text-anchor="middle" fill="#000" textLength="16.5" lengthAdjust="spacingAndGlyphs" >W</text>
<line x1="96.8" y1="760.3" x2="96.8" y2="824" stroke="#8e8e8e" stroke-width="1.2" />
<path d="M96.8,760.3 L99.55,772.80 L94.05,772.80 Z" fill="#000"/>
<path d="M96.8,824 L94.05,811.50 L99.55,811.50 Z" fill="#000"/>
<line x1="96.3" y1="760.3" x2="116.5" y2="760.3" stroke="#8e8e8e" stroke-width="1.1" />
<line x1="96.3" y1="824" x2="116.5" y2="824" stroke="#8e8e8e" stroke-width="1.1" />
<g transform="translate(96.4,792) rotate(-90)"><text x="0" y="0" font-size="18.6" font-family="Liberation Sans" text-anchor="middle" fill="#000" textLength="10.6" lengthAdjust="spacingAndGlyphs">H</text></g>
<rect x="116.5" y="760.4" width="216.10000000000002" height="11.399999999999977" rx="1.5" stroke="#000" stroke-width="1.45" fill="#fff"/>
<rect x="116.5" y="773.1" width="216.10000000000002" height="11.899999999999977" rx="1.5" stroke="#000" stroke-width="1.45" fill="#fff"/>
<rect x="116.5" y="786" width="216.10000000000002" height="11.899999999999977" rx="1.5" stroke="#000" stroke-width="1.45" fill="#fff"/>
<rect x="116.5" y="798.8" width="216.10000000000002" height="11.900000000000091" rx="1.5" stroke="#000" stroke-width="1.45" fill="#fff"/>
<rect x="116.5" y="811.6" width="216.10000000000002" height="12.0" rx="1.5" stroke="#000" stroke-width="1.45" fill="#fff"/>
<line x1="120.6" y1="756.2" x2="120.6" y2="826.7" stroke="#aaa" stroke-width="0.9" stroke-dasharray="4,1.5"/>
<line x1="328.5" y1="756.2" x2="328.5" y2="826.7" stroke="#aaa" stroke-width="0.9" stroke-dasharray="4,1.5"/>
<line x1="416.3" y1="713.8" x2="521.3" y2="713.8" stroke="#8e8e8e" stroke-width="1.2" />
<path d="M443.3,713.8 L429.30,716.10 L429.30,711.50 Z" fill="#000"/>
<path d="M466,713.8 L479.00,711.50 L479.00,716.10 Z" fill="#000"/>
<text x="492" y="712.5" font-size="18.5" font-family="Liberation Sans" font-weight="normal" text-anchor="start" fill="#000" textLength="27.75" lengthAdjust="spacingAndGlyphs" >107</text>
<line x1="416.3" y1="736.9" x2="503.9" y2="736.9" stroke="#8e8e8e" stroke-width="1.2" />
<path d="M443.3,736.9 L429.30,739.20 L429.30,734.60 Z" fill="#000"/>
<path d="M457,736.9 L471.00,734.60 L471.00,739.20 Z" fill="#000"/>
<text x="484" y="736.75" font-size="18.9" font-family="Liberation Sans" font-weight="normal" text-anchor="start" fill="#000" textLength="18" lengthAdjust="spacingAndGlyphs" >67</text>
<line x1="443" y1="713.8" x2="443" y2="750" stroke="#8e8e8e" stroke-width="1.1" />
<line x1="466" y1="713.8" x2="466" y2="767" stroke="#8e8e8e" stroke-width="1.1" />
<line x1="457" y1="736.9" x2="457" y2="762" stroke="#8e8e8e" stroke-width="1.1" />
<line x1="411.5" y1="746.5" x2="411.5" y2="861" stroke="#000" stroke-width="2.2" />
<line x1="442.8" y1="749" x2="442.8" y2="861" stroke="#000" stroke-width="2.2" />
<path d="M411.3,746.9 C412.5,746 414,745.8 414.6,744.5 C415.3,742 415.6,736 416,731 C416.6,726 418,722 420.5,718.5 C422.5,716 424.5,715.8 425.3,717 C426,719 425.2,726 424.4,732 C423.7,738 423.2,744 423.4,748 C423.8,752 426,755.3 429.8,755.8 C433.5,756 437.5,753.5 442.7,749.6" stroke="#000" stroke-width="1.9" fill="none" />
<line x1="419.2" y1="724.7" x2="425" y2="724.7" stroke="#000" stroke-width="1.3" />
<line x1="416" y1="739" x2="423.3" y2="739" stroke="#000" stroke-width="1.3" />
<line x1="412" y1="753.7" x2="442.5" y2="753.7" stroke="#000" stroke-width="1.8" />
<line x1="412" y1="768.3" x2="442.5" y2="768.3" stroke="#000" stroke-width="1.8" />
<line x1="412" y1="782.9" x2="442.5" y2="782.9" stroke="#000" stroke-width="1.8" />
<line x1="412" y1="797.5" x2="442.5" y2="797.5" stroke="#000" stroke-width="1.8" />
<line x1="412" y1="812.7" x2="442.5" y2="812.7" stroke="#000" stroke-width="1.8" />
<line x1="412" y1="827.3" x2="442.5" y2="827.3" stroke="#000" stroke-width="1.8" />
<line x1="412" y1="841.8" x2="442.5" y2="841.8" stroke="#000" stroke-width="1.8" />
<line x1="412" y1="856.7" x2="442.5" y2="856.7" stroke="#000" stroke-width="1.8" />
<line x1="434.2" y1="768.3" x2="434.2" y2="782.9" stroke="#000" stroke-width="1.7" />
<line x1="434.2" y1="797.5" x2="434.2" y2="812.7" stroke="#000" stroke-width="1.7" />
<line x1="434.2" y1="827.3" x2="434.2" y2="841.8" stroke="#000" stroke-width="1.7" />
<line x1="434.2" y1="856.7" x2="434.2" y2="861" stroke="#000" stroke-width="1.7" />
<rect x="443.5" y="772.5" width="9.8" height="6.7000000000000455" stroke="#000" stroke-width="1.5" fill="#fff" />
<line x1="426" y1="775.85" x2="444" y2="775.85" stroke="#000" stroke-width="2.4" />
<path d="M425.4,775.85 L428.40,774.65 L428.40,777.05 Z" fill="#000"/>
<line x1="446" y1="775.85" x2="448" y2="775.85" stroke="#888" stroke-width="0.8" />
<rect x="443.5" y="815" width="9.8" height="7" stroke="#000" stroke-width="1.5" fill="#fff" />
<line x1="426" y1="818.5" x2="444" y2="818.5" stroke="#000" stroke-width="2.4" />
<path d="M425.4,818.5 L428.40,817.30 L428.40,819.70 Z" fill="#000"/>
<line x1="446" y1="818.5" x2="448" y2="818.5" stroke="#888" stroke-width="0.8" />
<rect x="453.3" y="764.8" width="6.9" height="64.8" stroke="#000" stroke-width="1.5" fill="#fff" />
<line x1="456.8" y1="765" x2="456.8" y2="833" stroke="#bbb" stroke-width="1" stroke-dasharray="3,1.5"/>
<ellipse cx="463.3" cy="771.7" rx="3.1" ry="5.3" stroke="#000" stroke-width="1.5" fill="#fff"/>
<ellipse cx="463.3" cy="784.2" rx="3.1" ry="5.3" stroke="#000" stroke-width="1.5" fill="#fff"/>
<ellipse cx="463.3" cy="797" rx="3.1" ry="5.3" stroke="#000" stroke-width="1.5" fill="#fff"/>
<ellipse cx="463.3" cy="809.8" rx="3.1" ry="5.3" stroke="#000" stroke-width="1.5" fill="#fff"/>
<ellipse cx="463.3" cy="822.9" rx="3.1" ry="5.3" stroke="#000" stroke-width="1.5" fill="#fff"/>
<path d="M368.10,861.90 C374.93,860.70 409.95,861.60 431.00,861.60 C452.05,861.60 484.73,860.83 494.40,861.90 C504.07,862.97 490.57,866.02 489.00,868.00 C487.43,869.98 484.67,871.97 485.00,873.80 C485.33,875.63 488.92,877.33 491.00,879.00 C493.08,880.67 495.58,882.17 497.50,883.80 C499.42,885.43 505.62,887.25 502.50,888.80 C499.38,890.35 486.92,891.85 478.80,893.10 C470.68,894.35 460.05,894.73 453.80,896.30 C447.55,897.87 445.05,900.73 441.30,902.50 C437.55,904.27 434.85,907.10 431.30,906.90 C427.75,906.70 423.55,902.97 420.00,901.30 C416.45,899.63 415.83,898.47 410.00,896.90 C404.17,895.33 390.10,893.37 385.00,891.90 C379.90,890.43 379.82,889.45 379.40,888.10 C378.98,886.75 381.07,885.32 382.50,883.80 C383.93,882.28 386.23,880.67 388.00,879.00 C389.77,877.33 392.77,875.50 393.10,873.80 C393.43,872.10 394.17,870.78 390.00,868.80 C385.83,866.82 361.27,863.10 368.10,861.90 Z" fill="#000" stroke="#000" stroke-width="1.2" stroke-linejoin="round"/>
<g fill="#fff" opacity="0.8">
<rect x="388.80" y="862.80" width="1.1" height="1.1"/>
<rect x="394.40" y="862.80" width="1.1" height="1.1"/>
<rect x="400.00" y="862.80" width="1.1" height="1.1"/>
<rect x="405.60" y="862.80" width="1.1" height="1.1"/>
<rect x="411.20" y="862.80" width="1.1" height="1.1"/>
<rect x="416.80" y="862.80" width="1.1" height="1.1"/>
<rect x="422.40" y="862.80" width="1.1" height="1.1"/>
<rect x="428.00" y="862.80" width="1.1" height="1.1"/>
<rect x="433.60" y="862.80" width="1.1" height="1.1"/>
<rect x="439.20" y="862.80" width="1.1" height="1.1"/>
<rect x="444.80" y="862.80" width="1.1" height="1.1"/>
<rect x="450.40" y="862.80" width="1.1" height="1.1"/>
<rect x="456.00" y="862.80" width="1.1" height="1.1"/>
<rect x="461.60" y="862.80" width="1.1" height="1.1"/>
<rect x="467.20" y="862.80" width="1.1" height="1.1"/>
<rect x="472.80" y="862.80" width="1.1" height="1.1"/>
<rect x="478.40" y="862.80" width="1.1" height="1.1"/>
<rect x="484.00" y="862.80" width="1.1" height="1.1"/>
<rect x="489.60" y="862.80" width="1.1" height="1.1"/>
<rect x="495.20" y="862.80" width="1.1" height="1.1"/>
<rect x="500.80" y="862.80" width="1.1" height="1.1"/>
<rect x="388.80" y="868.40" width="1.1" height="1.1"/>
<rect x="394.40" y="868.40" width="1.1" height="1.1"/>
<rect x="400.00" y="868.40" width="1.1" height="1.1"/>
<rect x="405.60" y="868.40" width="1.1" height="1.1"/>
<rect x="411.20" y="868.40" width="1.1" height="1.1"/>
<rect x="416.80" y="868.40" width="1.1" height="1.1"/>
<rect x="422.40" y="868.40" width="1.1" height="1.1"/>
<rect x="428.00" y="868.40" width="1.1" height="1.1"/>
<rect x="433.60" y="868.40" width="1.1" height="1.1"/>
<rect x="439.20" y="868.40" width="1.1" height="1.1"/>
<rect x="444.80" y="868.40" width="1.1" height="1.1"/>
<rect x="450.40" y="868.40" width="1.1" height="1.1"/>
<rect x="456.00" y="868.40" width="1.1" height="1.1"/>
<rect x="461.60" y="868.40" width="1.1" height="1.1"/>
<rect x="467.20" y="868.40" width="1.1" height="1.1"/>
<rect x="472.80" y="868.40" width="1.1" height="1.1"/>
<rect x="478.40" y="868.40" width="1.1" height="1.1"/>
<rect x="484.00" y="868.40" width="1.1" height="1.1"/>
<rect x="489.60" y="868.40" width="1.1" height="1.1"/>
<rect x="495.20" y="868.40" width="1.1" height="1.1"/>
<rect x="500.80" y="868.40" width="1.1" height="1.1"/>
<rect x="388.80" y="874.00" width="1.1" height="1.1"/>
<rect x="394.40" y="874.00" width="1.1" height="1.1"/>
<rect x="400.00" y="874.00" width="1.1" height="1.1"/>
<rect x="405.60" y="874.00" width="1.1" height="1.1"/>
<rect x="411.20" y="874.00" width="1.1" height="1.1"/>
<rect x="416.80" y="874.00" width="1.1" height="1.1"/>
<rect x="422.40" y="874.00" width="1.1" height="1.1"/>
<rect x="428.00" y="874.00" width="1.1" height="1.1"/>
<rect x="433.60" y="874.00" width="1.1" height="1.1"/>
<rect x="439.20" y="874.00" width="1.1" height="1.1"/>
<rect x="444.80" y="874.00" width="1.1" height="1.1"/>
<rect x="450.40" y="874.00" width="1.1" height="1.1"/>
<rect x="456.00" y="874.00" width="1.1" height="1.1"/>
<rect x="461.60" y="874.00" width="1.1" height="1.1"/>
<rect x="467.20" y="874.00" width="1.1" height="1.1"/>
<rect x="472.80" y="874.00" width="1.1" height="1.1"/>
<rect x="478.40" y="874.00" width="1.1" height="1.1"/>
<rect x="484.00" y="874.00" width="1.1" height="1.1"/>
<rect x="489.60" y="874.00" width="1.1" height="1.1"/>
<rect x="495.20" y="874.00" width="1.1" height="1.1"/>
<rect x="500.80" y="874.00" width="1.1" height="1.1"/>
<rect x="388.80" y="879.60" width="1.1" height="1.1"/>
<rect x="394.40" y="879.60" width="1.1" height="1.1"/>
<rect x="400.00" y="879.60" width="1.1" height="1.1"/>
<rect x="405.60" y="879.60" width="1.1" height="1.1"/>
<rect x="411.20" y="879.60" width="1.1" height="1.1"/>
<rect x="416.80" y="879.60" width="1.1" height="1.1"/>
<rect x="422.40" y="879.60" width="1.1" height="1.1"/>
<rect x="428.00" y="879.60" width="1.1" height="1.1"/>
<rect x="433.60" y="879.60" width="1.1" height="1.1"/>
<rect x="439.20" y="879.60" width="1.1" height="1.1"/>
<rect x="444.80" y="879.60" width="1.1" height="1.1"/>
<rect x="450.40" y="879.60" width="1.1" height="1.1"/>
<rect x="456.00" y="879.60" width="1.1" height="1.1"/>
<rect x="461.60" y="879.60" width="1.1" height="1.1"/>
<rect x="467.20" y="879.60" width="1.1" height="1.1"/>
<rect x="472.80" y="879.60" width="1.1" height="1.1"/>
<rect x="478.40" y="879.60" width="1.1" height="1.1"/>
<rect x="484.00" y="879.60" width="1.1" height="1.1"/>
<rect x="489.60" y="879.60" width="1.1" height="1.1"/>
<rect x="495.20" y="879.60" width="1.1" height="1.1"/>
<rect x="500.80" y="879.60" width="1.1" height="1.1"/>
<rect x="388.80" y="885.20" width="1.1" height="1.1"/>
<rect x="394.40" y="885.20" width="1.1" height="1.1"/>
<rect x="400.00" y="885.20" width="1.1" height="1.1"/>
<rect x="405.60" y="885.20" width="1.1" height="1.1"/>
<rect x="411.20" y="885.20" width="1.1" height="1.1"/>
<rect x="416.80" y="885.20" width="1.1" height="1.1"/>
<rect x="422.40" y="885.20" width="1.1" height="1.1"/>
<rect x="428.00" y="885.20" width="1.1" height="1.1"/>
<rect x="433.60" y="885.20" width="1.1" height="1.1"/>
<rect x="439.20" y="885.20" width="1.1" height="1.1"/>
<rect x="444.80" y="885.20" width="1.1" height="1.1"/>
<rect x="450.40" y="885.20" width="1.1" height="1.1"/>
<rect x="456.00" y="885.20" width="1.1" height="1.1"/>
<rect x="461.60" y="885.20" width="1.1" height="1.1"/>
<rect x="467.20" y="885.20" width="1.1" height="1.1"/>
<rect x="472.80" y="885.20" width="1.1" height="1.1"/>
<rect x="478.40" y="885.20" width="1.1" height="1.1"/>
<rect x="484.00" y="885.20" width="1.1" height="1.1"/>
<rect x="489.60" y="885.20" width="1.1" height="1.1"/>
<rect x="495.20" y="885.20" width="1.1" height="1.1"/>
<rect x="500.80" y="885.20" width="1.1" height="1.1"/>
<rect x="388.80" y="890.80" width="1.1" height="1.1"/>
<rect x="394.40" y="890.80" width="1.1" height="1.1"/>
<rect x="400.00" y="890.80" width="1.1" height="1.1"/>
<rect x="405.60" y="890.80" width="1.1" height="1.1"/>
<rect x="411.20" y="890.80" width="1.1" height="1.1"/>
<rect x="416.80" y="890.80" width="1.1" height="1.1"/>
<rect x="422.40" y="890.80" width="1.1" height="1.1"/>
<rect x="428.00" y="890.80" width="1.1" height="1.1"/>
<rect x="433.60" y="890.80" width="1.1" height="1.1"/>
<rect x="439.20" y="890.80" width="1.1" height="1.1"/>
<rect x="444.80" y="890.80" width="1.1" height="1.1"/>
<rect x="450.40" y="890.80" width="1.1" height="1.1"/>
<rect x="456.00" y="890.80" width="1.1" height="1.1"/>
<rect x="461.60" y="890.80" width="1.1" height="1.1"/>
<rect x="467.20" y="890.80" width="1.1" height="1.1"/>
<rect x="472.80" y="890.80" width="1.1" height="1.1"/>
<rect x="478.40" y="890.80" width="1.1" height="1.1"/>
<rect x="484.00" y="890.80" width="1.1" height="1.1"/>
<rect x="489.60" y="890.80" width="1.1" height="1.1"/>
<rect x="495.20" y="890.80" width="1.1" height="1.1"/>
<rect x="500.80" y="890.80" width="1.1" height="1.1"/>
<rect x="388.80" y="896.40" width="1.1" height="1.1"/>
<rect x="394.40" y="896.40" width="1.1" height="1.1"/>
<rect x="400.00" y="896.40" width="1.1" height="1.1"/>
<rect x="405.60" y="896.40" width="1.1" height="1.1"/>
<rect x="411.20" y="896.40" width="1.1" height="1.1"/>
<rect x="416.80" y="896.40" width="1.1" height="1.1"/>
<rect x="422.40" y="896.40" width="1.1" height="1.1"/>
<rect x="428.00" y="896.40" width="1.1" height="1.1"/>
<rect x="433.60" y="896.40" width="1.1" height="1.1"/>
<rect x="439.20" y="896.40" width="1.1" height="1.1"/>
<rect x="444.80" y="896.40" width="1.1" height="1.1"/>
<rect x="450.40" y="896.40" width="1.1" height="1.1"/>
<rect x="456.00" y="896.40" width="1.1" height="1.1"/>
<rect x="461.60" y="896.40" width="1.1" height="1.1"/>
<rect x="467.20" y="896.40" width="1.1" height="1.1"/>
<rect x="472.80" y="896.40" width="1.1" height="1.1"/>
<rect x="478.40" y="896.40" width="1.1" height="1.1"/>
<rect x="484.00" y="896.40" width="1.1" height="1.1"/>
<rect x="489.60" y="896.40" width="1.1" height="1.1"/>
<rect x="495.20" y="896.40" width="1.1" height="1.1"/>
<rect x="500.80" y="896.40" width="1.1" height="1.1"/>
<rect x="388.80" y="902.00" width="1.1" height="1.1"/>
<rect x="394.40" y="902.00" width="1.1" height="1.1"/>
<rect x="400.00" y="902.00" width="1.1" height="1.1"/>
<rect x="405.60" y="902.00" width="1.1" height="1.1"/>
<rect x="411.20" y="902.00" width="1.1" height="1.1"/>
<rect x="416.80" y="902.00" width="1.1" height="1.1"/>
<rect x="422.40" y="902.00" width="1.1" height="1.1"/>
<rect x="428.00" y="902.00" width="1.1" height="1.1"/>
<rect x="433.60" y="902.00" width="1.1" height="1.1"/>
<rect x="439.20" y="902.00" width="1.1" height="1.1"/>
<rect x="444.80" y="902.00" width="1.1" height="1.1"/>
<rect x="450.40" y="902.00" width="1.1" height="1.1"/>
<rect x="456.00" y="902.00" width="1.1" height="1.1"/>
<rect x="461.60" y="902.00" width="1.1" height="1.1"/>
<rect x="467.20" y="902.00" width="1.1" height="1.1"/>
<rect x="472.80" y="902.00" width="1.1" height="1.1"/>
<rect x="478.40" y="902.00" width="1.1" height="1.1"/>
<rect x="484.00" y="902.00" width="1.1" height="1.1"/>
<rect x="489.60" y="902.00" width="1.1" height="1.1"/>
<rect x="495.20" y="902.00" width="1.1" height="1.1"/>
<rect x="500.80" y="902.00" width="1.1" height="1.1"/>
</g>
<line x1="569" y1="761" x2="769" y2="761" stroke="#000" stroke-width="1.5" />
<line x1="569" y1="772.5" x2="769" y2="772.5" stroke="#000" stroke-width="2.6" />
<line x1="569" y1="785.3" x2="769" y2="785.3" stroke="#000" stroke-width="2.6" />
<line x1="569" y1="798.1" x2="769" y2="798.1" stroke="#000" stroke-width="2.6" />
<line x1="569" y1="810.7" x2="769" y2="810.7" stroke="#000" stroke-width="2.6" />
<line x1="569" y1="822.9" x2="769" y2="822.9" stroke="#000" stroke-width="1.6" />
<rect x="561.5" y="760" width="7.6" height="63.6" rx="1.5" stroke="#000" stroke-width="1.9" fill="#fff"/>
<rect x="769.4" y="760" width="7.6" height="63.6" rx="1.5" stroke="#000" stroke-width="1.9" fill="#fff"/>
<line x1="565.3" y1="756.4" x2="565.3" y2="827" stroke="#aaa" stroke-width="0.8" stroke-dasharray="3,1.5"/>
<circle cx="565.3" cy="770.9" r="1.3" fill="#222"/>
<circle cx="565.3" cy="813.2" r="1.3" fill="#222"/>
<line x1="773.1" y1="756.4" x2="773.1" y2="827" stroke="#aaa" stroke-width="0.8" stroke-dasharray="3,1.5"/>
<circle cx="773.1" cy="770.9" r="1.3" fill="#222"/>
<circle cx="773.1" cy="813.2" r="1.3" fill="#222"/>
<line x1="542.4" y1="770.9" x2="542.4" y2="813.2" stroke="#8e8e8e" stroke-width="1.2" />
<path d="M542.4,770.9 L545.15,783.90 L539.65,783.90 Z" fill="#000"/>
<path d="M542.4,813.2 L539.65,800.20 L545.15,800.20 Z" fill="#000"/>
<line x1="542.4" y1="770.9" x2="560.5" y2="770.9" stroke="#8e8e8e" stroke-width="1.1" />
<line x1="542.4" y1="813.2" x2="560.5" y2="813.2" stroke="#8e8e8e" stroke-width="1.1" />
<g transform="translate(541.2,792.2) rotate(-90)"><text x="0" y="0" font-size="19" font-family="Liberation Sans" text-anchor="middle" fill="#000" textLength="12.5" lengthAdjust="spacingAndGlyphs">G</text></g>
<line x1="565.3" y1="827.4" x2="565.3" y2="854" stroke="#555" stroke-width="1.1" />
<line x1="772.8" y1="827.4" x2="772.8" y2="854" stroke="#555" stroke-width="1.1" />
<line x1="565.3" y1="853.8" x2="772.8" y2="853.8" stroke="#8e8e8e" stroke-width="1.2" />
<path d="M565.3,853.8 L578.30,851.05 L578.30,856.55 Z" fill="#000"/>
<path d="M772.8,853.8 L759.80,856.55 L759.80,851.05 Z" fill="#000"/>
<text x="668.6" y="853.2" font-size="19" font-family="Liberation Sans" font-weight="normal" text-anchor="middle" fill="#000" textLength="12" lengthAdjust="spacingAndGlyphs" >C</text>
<text x="614.2" y="893.4" font-size="21.1" font-family="Liberation Sans" font-weight="normal" text-anchor="start" fill="#000" textLength="91.6" lengthAdjust="spacingAndGlyphs" >back view</text>
<path d="M870.3,775.3 C864,774.5 856,773.5 851.7,771.3 C848.5,769.5 849,766.5 851.5,764 C853.5,762 855.5,760.7 857,760.7 L1112,760.7 C1109,763 1106,765.5 1106,768 C1106,771 1108,772.8 1110.5,773.6 C1116,775 1122,775.8 1126.7,776.7 C1124,777.7 1114,779.5 1096.7,782 C1090,783.2 1087,784 1087.3,785.3 C1088,786.8 1093,788.3 1100.7,789.5 C1107,790.7 1112,791.5 1116,792.4" stroke="#000" stroke-width="1.6" fill="none" />
<line x1="870.3" y1="775.3" x2="1112" y2="775.3" stroke="#000" stroke-width="1.6" />
<path d="M870.3,775.6 C866,777.5 861,780.5 860.3,783.3 C859.8,786 861,789.5 863.7,792.7 L1095,792.7" stroke="#000" stroke-width="1.6" fill="none" />
<line x1="862" y1="789.9" x2="1100" y2="789.9" stroke="#000" stroke-width="1.3" />
<rect x="864" y="791.0" width="231" height="0.9" fill="#aaa" />
<line x1="862.7" y1="760.7" x2="862.7" y2="775.3" stroke="#000" stroke-width="1.6" />
<line x1="907" y1="760.7" x2="907" y2="775.3" stroke="#000" stroke-width="1.6" />
<line x1="950.9" y1="760.7" x2="950.9" y2="775.3" stroke="#000" stroke-width="1.6" />
<line x1="994.6" y1="760.7" x2="994.6" y2="775.3" stroke="#000" stroke-width="1.6" />
<line x1="1038.7" y1="760.7" x2="1038.7" y2="775.3" stroke="#000" stroke-width="1.6" />
<line x1="1082.7" y1="760.7" x2="1082.7" y2="775.3" stroke="#000" stroke-width="1.6" />
<line x1="886.3" y1="775.3" x2="886.3" y2="790" stroke="#000" stroke-width="1.6" />
<line x1="928.9" y1="775.3" x2="928.9" y2="790" stroke="#000" stroke-width="1.6" />
<line x1="972.9" y1="775.3" x2="972.9" y2="790" stroke="#000" stroke-width="1.6" />
<line x1="1016.5" y1="775.3" x2="1016.5" y2="790" stroke="#000" stroke-width="1.6" />
<line x1="1060.7" y1="775.3" x2="1060.7" y2="790" stroke="#000" stroke-width="1.6" />
<line x1="1104.7" y1="775.3" x2="1104.7" y2="780" stroke="#000" stroke-width="1.6" />
<rect x="883.3" y="805.4" width="216.8" height="5.8" rx="1" stroke="#000" stroke-width="1.6" fill="#fff"/>
<line x1="874" y1="802.3" x2="1110" y2="802.3" stroke="#999" stroke-width="0.8" stroke-dasharray="3,1.5"/>
<line x1="887.0" y1="775.5" x2="887.0" y2="792" stroke="#000" stroke-width="1.6" />
<rect x="884.7" y="792.7" width="7.8" height="12.6" fill="#000" />
<rect x="886.3000000000001" y="794.5" width="4.6" height="2.6" fill="#fff" />
<line x1="1093.8" y1="775.5" x2="1093.8" y2="792" stroke="#000" stroke-width="1.6" />
<rect x="1091.5" y="792.7" width="7.8" height="12.6" fill="#000" />
<rect x="1093.1" y="794.5" width="4.6" height="2.6" fill="#fff" />
<line x1="888" y1="816.2" x2="888" y2="846" stroke="#555" stroke-width="1.1" />
<line x1="1095.5" y1="816.2" x2="1095.5" y2="846" stroke="#555" stroke-width="1.1" />
<line x1="888" y1="844.6" x2="1095.5" y2="844.6" stroke="#8e8e8e" stroke-width="1.2" />
<path d="M888,844.6 L901.00,842.10 L901.00,847.10 Z" fill="#000"/>
<path d="M1095.5,844.6 L1082.50,847.10 L1082.50,842.10 Z" fill="#000"/>
<text x="991.8" y="843.3" font-size="18.5" font-family="Liberation Sans" font-weight="normal" text-anchor="middle" fill="#000" textLength="12" lengthAdjust="spacingAndGlyphs" >C</text>
<text x="949" y="879.8" font-size="21.8" font-family="Liberation Sans" font-weight="normal" text-anchor="start" fill="#000" textLength="77.3" lengthAdjust="spacingAndGlyphs" >top view</text>
<line x1="386.7" y1="910.3" x2="386.7" y2="1148.2" stroke="#8a8a8a" stroke-width="1.4" />
<line x1="513.4" y1="910.3" x2="513.4" y2="1148.2" stroke="#8a8a8a" stroke-width="1.4" />
<line x1="549.2" y1="910.3" x2="549.2" y2="1148.2" stroke="#8a8a8a" stroke-width="1.4" />
<line x1="584.2" y1="910.3" x2="584.2" y2="1148.2" stroke="#8a8a8a" stroke-width="1.4" />
<line x1="638.4" y1="910.3" x2="638.4" y2="1148.2" stroke="#8a8a8a" stroke-width="1.4" />
<line x1="701.5" y1="910.3" x2="701.5" y2="1148.2" stroke="#8a8a8a" stroke-width="1.4" />
<line x1="764.3" y1="910.3" x2="764.3" y2="1148.2" stroke="#8a8a8a" stroke-width="1.4" />
<line x1="827" y1="910.3" x2="827" y2="1148.2" stroke="#8a8a8a" stroke-width="1.4" />
<line x1="889.7" y1="910.3" x2="889.7" y2="1148.2" stroke="#8a8a8a" stroke-width="1.4" />
<line x1="513.4" y1="953.4" x2="952.7" y2="953.4" stroke="#555" stroke-width="1.4" />
<line x1="513.4" y1="975.3" x2="952.7" y2="975.3" stroke="#555" stroke-width="1.4" />
<line x1="246" y1="997" x2="952.7" y2="997" stroke="#555" stroke-width="1.4" />
<line x1="246" y1="1018.7" x2="952.7" y2="1018.7" stroke="#555" stroke-width="1.4" />
<line x1="246" y1="1040.3" x2="952.7" y2="1040.3" stroke="#555" stroke-width="1.4" />
<line x1="246" y1="1062" x2="952.7" y2="1062" stroke="#555" stroke-width="1.4" />
<line x1="246" y1="1084" x2="952.7" y2="1084" stroke="#555" stroke-width="1.4" />
<line x1="246" y1="1105.3" x2="952.7" y2="1105.3" stroke="#555" stroke-width="1.4" />
<line x1="246" y1="1127" x2="952.7" y2="1127" stroke="#555" stroke-width="1.4" />
<rect x="246" y="910.3" width="706.7" height="237.9000000000001" stroke="#555" stroke-width="1.4" fill="none" />
<text x="252.8" y="956.3" font-size="20.7" font-family="Liberation Sans" font-weight="normal" text-anchor="start" fill="#000" textLength="128.1" lengthAdjust="spacingAndGlyphs" >product name</text>
<text x="446" y="946.7" font-size="22.9" font-family="Liberation Sans" font-weight="normal" text-anchor="middle" fill="#000" textLength="79.7" lengthAdjust="spacingAndGlyphs" >product</text>
<text x="446.8" y="977" font-size="23.3" font-family="Liberation Sans" font-weight="normal" text-anchor="middle" fill="#000" textLength="50.9" lengthAdjust="spacingAndGlyphs" >code</text>
<text x="515" y="935.8" font-size="10.4" font-family="Liberation Sans" font-weight="normal" text-anchor="start" fill="#000" textLength="30" lengthAdjust="spacingAndGlyphs" >Helght</text>
<text x="552.5" y="935.8" font-size="10.4" font-family="Liberation Sans" font-weight="normal" text-anchor="start" fill="#000" textLength="24.2" lengthAdjust="spacingAndGlyphs" >width</text>
<text x="587" y="935.8" font-size="10.4" font-family="Liberation Sans" font-weight="normal" text-anchor="start" fill="#000" textLength="47.2" lengthAdjust="spacingAndGlyphs" >Thickness</text>
<text x="646.7" y="921.7" font-size="10.4" font-family="Liberation Sans" font-weight="normal" text-anchor="start" fill="#000" textLength="44.1" lengthAdjust="spacingAndGlyphs" >Piumbing</text>
<text x="640.8" y="935" font-size="10.4" font-family="Liberation Sans" font-weight="normal" text-anchor="start" fill="#000" textLength="54.2" lengthAdjust="spacingAndGlyphs" >axes center</text>
<text x="644.2" y="946.7" font-size="10.4" font-family="Liberation Sans" font-weight="normal" text-anchor="start" fill="#000" textLength="40.8" lengthAdjust="spacingAndGlyphs" >to center</text>
<text x="711.9" y="929.3" font-size="10.4" font-family="Liberation Sans" font-weight="normal" text-anchor="start" fill="#000" textLength="31.4" lengthAdjust="spacingAndGlyphs" >Wall to</text>
<text x="708.2" y="941.8" font-size="10.4" font-family="Liberation Sans" font-weight="normal" text-anchor="start" fill="#000" textLength="43.8" lengthAdjust="spacingAndGlyphs" >Pipe cent</text>
<text x="781.3" y="929.3" font-size="10.4" font-family="Liberation Sans" font-weight="normal" text-anchor="start" fill="#000" textLength="20.5" lengthAdjust="spacingAndGlyphs" >Wall</text>
<text x="774.8" y="941.8" font-size="10.4" font-family="Liberation Sans" font-weight="normal" text-anchor="start" fill="#000" textLength="40.5" lengthAdjust="spacingAndGlyphs" >Distance</text>
<text x="842" y="929.3" font-size="10.4" font-family="Liberation Sans" font-weight="normal" text-anchor="start" fill="#000" textLength="23.8" lengthAdjust="spacingAndGlyphs" >Tube</text>
<text x="835.4" y="941.8" font-size="10.4" font-family="Liberation Sans" font-weight="normal" text-anchor="start" fill="#000" textLength="39.7" lengthAdjust="spacingAndGlyphs" >Quantity</text>
<text x="901.5" y="929.3" font-size="10.4" font-family="Liberation Sans" font-weight="normal" text-anchor="start" fill="#000" textLength="29.3" lengthAdjust="spacingAndGlyphs" >empty</text>
<text x="902.6" y="941.8" font-size="10.4" font-family="Liberation Sans" font-weight="normal" text-anchor="start" fill="#000" textLength="29.7" lengthAdjust="spacingAndGlyphs" >weight</text>
<text x="524.2" y="967.5" font-size="14.6" font-family="Liberation Sans" font-weight="normal" text-anchor="start" fill="#000" textLength="9.1" lengthAdjust="spacingAndGlyphs" >H</text>
<text x="562.5" y="967.5" font-size="14.6" font-family="Liberation Sans" font-weight="normal" text-anchor="start" fill="#000" textLength="13.3" lengthAdjust="spacingAndGlyphs" >W</text>
<text x="601.3" y="967.5" font-size="14.6" font-family="Liberation Sans" font-weight="normal" text-anchor="start" fill="#000" textLength="9.5" lengthAdjust="spacingAndGlyphs" >D</text>
<text x="663.3" y="967.5" font-size="14.6" font-family="Liberation Sans" font-weight="normal" text-anchor="start" fill="#000" textLength="10" lengthAdjust="spacingAndGlyphs" >C</text>
<rect x="729.3000000000001" y="965.7" width="3.6" height="1.3" fill="#222" />
<rect x="791.8000000000001" y="965.7" width="3.6" height="1.3" fill="#222" />
<rect x="854.8000000000001" y="965.7" width="3.6" height="1.3" fill="#222" />
<rect x="917.6" y="965.7" width="3.6" height="1.3" fill="#222" />
<text x="519.2" y="990.3" font-size="14.6" font-family="Liberation Sans" font-weight="normal" text-anchor="start" fill="#000" textLength="24.1" lengthAdjust="spacingAndGlyphs" >mm</text>
<text x="558.3" y="990.3" font-size="14.6" font-family="Liberation Sans" font-weight="normal" text-anchor="start" fill="#000" textLength="24.1" lengthAdjust="spacingAndGlyphs" >mm</text>
<text x="594.2" y="990.3" font-size="14.6" font-family="Liberation Sans" font-weight="normal" text-anchor="start" fill="#000" textLength="24.1" lengthAdjust="spacingAndGlyphs" >mm</text>
<text x="649.7" y="990.3" font-size="14.6" font-family="Liberation Sans" font-weight="normal" text-anchor="start" fill="#000" textLength="24.1" lengthAdjust="spacingAndGlyphs" >mm</text>
<text x="711.9" y="990.3" font-size="14.6" font-family="Liberation Sans" font-weight="normal" text-anchor="start" fill="#000" textLength="24.1" lengthAdjust="spacingAndGlyphs" >mm</text>
<text x="774.8" y="990.3" font-size="14.6" font-family="Liberation Sans" font-weight="normal" text-anchor="start" fill="#000" textLength="24.1" lengthAdjust="spacingAndGlyphs" >mm</text>
<rect x="854.8" y="986.7" width="3.6" height="1.3" fill="#222" />
<text x="916.7" y="990.6" font-size="15.7" font-family="Liberation Sans" font-weight="normal" text-anchor="start" fill="#000" textLength="16.3" lengthAdjust="spacingAndGlyphs" >kg</text>
<text x="255.3" y="1014.2" font-size="16.3" font-family="Liberation Sans" font-weight="normal" text-anchor="start" fill="#000" textLength="123.7" lengthAdjust="spacingAndGlyphs" >RND-NVH210S</text>
<text x="387.7" y="1014.2" font-size="16.3" font-family="Liberation Sans" font-weight="normal" text-anchor="start" fill="#000" textLength="123.7" lengthAdjust="spacingAndGlyphs" >RND-NVH210S</text>
<text x="518.3" y="1012.6" font-size="15.2" font-family="Liberation Sans" font-weight="normal" text-anchor="start" fill="#000" textLength="24" lengthAdjust="spacingAndGlyphs" >295</text>
<text x="550.8" y="1012.6" font-size="15.2" font-family="Liberation Sans" font-weight="normal" text-anchor="start" fill="#000" textLength="32.2" lengthAdjust="spacingAndGlyphs" >1000</text>
<text x="607.9" y="1012.6" font-size="15.2" font-family="Liberation Sans" font-weight="normal" text-anchor="middle" fill="#000" textLength="15.8" lengthAdjust="spacingAndGlyphs" >56</text>
<text x="668.2" y="1012.6" font-size="15.2" font-family="Liberation Sans" font-weight="normal" text-anchor="middle" fill="#000" textLength="24.0" lengthAdjust="spacingAndGlyphs" >955</text>
<text x="729.5" y="1012.6" font-size="15.2" font-family="Liberation Sans" font-weight="normal" text-anchor="middle" fill="#000" textLength="15.6" lengthAdjust="spacingAndGlyphs" >67</text>
<text x="795.6" y="1012.6" font-size="15.2" font-family="Liberation Sans" font-weight="normal" text-anchor="middle" fill="#000" textLength="23.3" lengthAdjust="spacingAndGlyphs" >107</text>
<text x="857.8" y="1012.6" font-size="15.2" font-family="Liberation Sans" font-weight="normal" text-anchor="middle" fill="#000" textLength="7.8" lengthAdjust="spacingAndGlyphs" >5</text>
<text x="908" y="1012.6" font-size="15.2" font-family="Liberation Sans" font-weight="normal" text-anchor="start" fill="#000" textLength="20.2" lengthAdjust="spacingAndGlyphs" >8.3</text>
<text x="255.3" y="1035.9" font-size="16.3" font-family="Liberation Sans" font-weight="normal" text-anchor="start" fill="#000" textLength="123.7" lengthAdjust="spacingAndGlyphs" >RND-NVH212S</text>
<text x="387.7" y="1035.9" font-size="16.3" font-family="Liberation Sans" font-weight="normal" text-anchor="start" fill="#000" textLength="123.7" lengthAdjust="spacingAndGlyphs" >RND-NVH212S</text>
<text x="515.3" y="1034.3" font-size="15.2" font-family="Liberation Sans" font-weight="normal" text-anchor="start" fill="#000" textLength="24" lengthAdjust="spacingAndGlyphs" >295</text>
<text x="550.8" y="1034.3" font-size="15.2" font-family="Liberation Sans" font-weight="normal" text-anchor="start" fill="#000" textLength="32.2" lengthAdjust="spacingAndGlyphs" >1200</text>
<text x="607.9" y="1034.3" font-size="15.2" font-family="Liberation Sans" font-weight="normal" text-anchor="middle" fill="#000" textLength="15.8" lengthAdjust="spacingAndGlyphs" >56</text>
<text x="668.2" y="1034.3" font-size="15.2" font-family="Liberation Sans" font-weight="normal" text-anchor="middle" fill="#000" textLength="32.0" lengthAdjust="spacingAndGlyphs" >1155</text>
<text x="729.5" y="1034.3" font-size="15.2" font-family="Liberation Sans" font-weight="normal" text-anchor="middle" fill="#000" textLength="15.6" lengthAdjust="spacingAndGlyphs" >67</text>
<text x="795.6" y="1034.3" font-size="15.2" font-family="Liberation Sans" font-weight="normal" text-anchor="middle" fill="#000" textLength="23.3" lengthAdjust="spacingAndGlyphs" >107</text>
<text x="857.8" y="1034.3" font-size="15.2" font-family="Liberation Sans" font-weight="normal" text-anchor="middle" fill="#000" textLength="7.8" lengthAdjust="spacingAndGlyphs" >5</text>
<text x="908" y="1034.3" font-size="15.2" font-family="Liberation Sans" font-weight="normal" text-anchor="start" fill="#000" textLength="27.8" lengthAdjust="spacingAndGlyphs" >10.0</text>
<text x="255.3" y="1057.5" font-size="16.3" font-family="Liberation Sans" font-weight="normal" text-anchor="start" fill="#000" textLength="123.7" lengthAdjust="spacingAndGlyphs" >RND-NVH214S</text>
<text x="387.7" y="1057.5" font-size="16.3" font-family="Liberation Sans" font-weight="normal" text-anchor="start" fill="#000" textLength="123.7" lengthAdjust="spacingAndGlyphs" >RND-NVH214S</text>
<text x="514.7" y="1055.8999999999999" font-size="15.2" font-family="Liberation Sans" font-weight="normal" text-anchor="start" fill="#000" textLength="24" lengthAdjust="spacingAndGlyphs" >295</text>
<text x="550.8" y="1055.8999999999999" font-size="15.2" font-family="Liberation Sans" font-weight="normal" text-anchor="start" fill="#000" textLength="32.2" lengthAdjust="spacingAndGlyphs" >1400</text>
<text x="607.9" y="1055.8999999999999" font-size="15.2" font-family="Liberation Sans" font-weight="normal" text-anchor="middle" fill="#000" textLength="15.8" lengthAdjust="spacingAndGlyphs" >56</text>
<text x="668.2" y="1055.8999999999999" font-size="15.2" font-family="Liberation Sans" font-weight="normal" text-anchor="middle" fill="#000" textLength="32.0" lengthAdjust="spacingAndGlyphs" >1355</text>
<text x="729.5" y="1055.8999999999999" font-size="15.2" font-family="Liberation Sans" font-weight="normal" text-anchor="middle" fill="#000" textLength="15.6" lengthAdjust="spacingAndGlyphs" >67</text>
<text x="795.6" y="1055.8999999999999" font-size="15.2" font-family="Liberation Sans" font-weight="normal" text-anchor="middle" fill="#000" textLength="23.3" lengthAdjust="spacingAndGlyphs" >107</text>
<text x="857.8" y="1055.8999999999999" font-size="15.2" font-family="Liberation Sans" font-weight="normal" text-anchor="middle" fill="#000" textLength="7.8" lengthAdjust="spacingAndGlyphs" >5</text>
<text x="908" y="1055.8999999999999" font-size="15.2" font-family="Liberation Sans" font-weight="normal" text-anchor="start" fill="#000" textLength="27.8" lengthAdjust="spacingAndGlyphs" >11.8</text>
<text x="255.3" y="1079.2" font-size="16.3" font-family="Liberation Sans" font-weight="normal" text-anchor="start" fill="#000" textLength="123.7" lengthAdjust="spacingAndGlyphs" >RND-NVH506S</text>
<text x="387.7" y="1079.2" font-size="16.3" font-family="Liberation Sans" font-weight="normal" text-anchor="start" fill="#000" textLength="123.7" lengthAdjust="spacingAndGlyphs" >RND-NVH506S</text>
<text x="518.3" y="1077.6" font-size="15.2" font-family="Liberation Sans" font-weight="normal" text-anchor="start" fill="#000" textLength="24" lengthAdjust="spacingAndGlyphs" >590</text>
<text x="565.7" y="1077.6" font-size="15.2" font-family="Liberation Sans" font-weight="normal" text-anchor="middle" fill="#000" textLength="24.5" lengthAdjust="spacingAndGlyphs" >600</text>
<text x="607.9" y="1077.6" font-size="15.2" font-family="Liberation Sans" font-weight="normal" text-anchor="middle" fill="#000" textLength="15.8" lengthAdjust="spacingAndGlyphs" >56</text>
<text x="668.2" y="1077.6" font-size="15.2" font-family="Liberation Sans" font-weight="normal" text-anchor="middle" fill="#000" textLength="24.0" lengthAdjust="spacingAndGlyphs" >555</text>
<text x="729.5" y="1077.6" font-size="15.2" font-family="Liberation Sans" font-weight="normal" text-anchor="middle" fill="#000" textLength="15.6" lengthAdjust="spacingAndGlyphs" >67</text>
<text x="795.6" y="1077.6" font-size="15.2" font-family="Liberation Sans" font-weight="normal" text-anchor="middle" fill="#000" textLength="23.3" lengthAdjust="spacingAndGlyphs" >107</text>
<text x="857.8" y="1077.6" font-size="15.2" font-family="Liberation Sans" font-weight="normal" text-anchor="middle" fill="#000" textLength="15.6" lengthAdjust="spacingAndGlyphs" >10</text>
<text x="908" y="1077.6" font-size="15.2" font-family="Liberation Sans" font-weight="normal" text-anchor="start" fill="#000" textLength="27.8" lengthAdjust="spacingAndGlyphs" >13.0</text>
<text x="255.3" y="1101.2" font-size="16.3" font-family="Liberation Sans" font-weight="normal" text-anchor="start" fill="#000" textLength="123.7" lengthAdjust="spacingAndGlyphs" >RND-NVH508S</text>
<text x="387.7" y="1101.2" font-size="16.3" font-family="Liberation Sans" font-weight="normal" text-anchor="start" fill="#000" textLength="123.7" lengthAdjust="spacingAndGlyphs" >RND-NVH508S</text>
<text x="514.7" y="1099.6" font-size="15.2" font-family="Liberation Sans" font-weight="normal" text-anchor="start" fill="#000" textLength="24" lengthAdjust="spacingAndGlyphs" >590</text>
<text x="565.7" y="1099.6" font-size="15.2" font-family="Liberation Sans" font-weight="normal" text-anchor="middle" fill="#000" textLength="24.5" lengthAdjust="spacingAndGlyphs" >800</text>
<text x="607.9" y="1099.6" font-size="15.2" font-family="Liberation Sans" font-weight="normal" text-anchor="middle" fill="#000" textLength="15.8" lengthAdjust="spacingAndGlyphs" >56</text>
<text x="668.2" y="1099.6" font-size="15.2" font-family="Liberation Sans" font-weight="normal" text-anchor="middle" fill="#000" textLength="24.0" lengthAdjust="spacingAndGlyphs" >755</text>
<text x="729.5" y="1099.6" font-size="15.2" font-family="Liberation Sans" font-weight="normal" text-anchor="middle" fill="#000" textLength="15.6" lengthAdjust="spacingAndGlyphs" >67</text>
<text x="795.6" y="1099.6" font-size="15.2" font-family="Liberation Sans" font-weight="normal" text-anchor="middle" fill="#000" textLength="23.3" lengthAdjust="spacingAndGlyphs" >107</text>
<text x="857.8" y="1099.6" font-size="15.2" font-family="Liberation Sans" font-weight="normal" text-anchor="middle" fill="#000" textLength="15.6" lengthAdjust="spacingAndGlyphs" >10</text>
<text x="908" y="1099.6" font-size="15.2" font-family="Liberation Sans" font-weight="normal" text-anchor="start" fill="#000" textLength="27.8" lengthAdjust="spacingAndGlyphs" >17.3</text>
<text x="255.3" y="1122.5" font-size="16.3" font-family="Liberation Sans" font-weight="normal" text-anchor="start" fill="#000" textLength="123.7" lengthAdjust="spacingAndGlyphs" >RND-NVH510S</text>
<text x="387.7" y="1122.5" font-size="16.3" font-family="Liberation Sans" font-weight="normal" text-anchor="start" fill="#000" textLength="123.7" lengthAdjust="spacingAndGlyphs" >RND-NVH510S</text>
<text x="514.7" y="1120.8999999999999" font-size="15.2" font-family="Liberation Sans" font-weight="normal" text-anchor="start" fill="#000" textLength="24" lengthAdjust="spacingAndGlyphs" >590</text>
<text x="550.8" y="1120.8999999999999" font-size="15.2" font-family="Liberation Sans" font-weight="normal" text-anchor="start" fill="#000" textLength="32.2" lengthAdjust="spacingAndGlyphs" >1000</text>
<text x="607.9" y="1120.8999999999999" font-size="15.2" font-family="Liberation Sans" font-weight="normal" text-anchor="middle" fill="#000" textLength="15.8" lengthAdjust="spacingAndGlyphs" >56</text>
<text x="668.2" y="1120.8999999999999" font-size="15.2" font-family="Liberation Sans" font-weight="normal" text-anchor="middle" fill="#000" textLength="24.0" lengthAdjust="spacingAndGlyphs" >955</text>
<text x="729.5" y="1120.8999999999999" font-size="15.2" font-family="Liberation Sans" font-weight="normal" text-anchor="middle" fill="#000" textLength="15.6" lengthAdjust="spacingAndGlyphs" >67</text>
<text x="795.6" y="1120.8999999999999" font-size="15.2" font-family="Liberation Sans" font-weight="normal" text-anchor="middle" fill="#000" textLength="23.3" lengthAdjust="spacingAndGlyphs" >107</text>
<text x="857.8" y="1120.8999999999999" font-size="15.2" font-family="Liberation Sans" font-weight="normal" text-anchor="middle" fill="#000" textLength="15.6" lengthAdjust="spacingAndGlyphs" >10</text>
<text x="908" y="1120.8999999999999" font-size="15.2" font-family="Liberation Sans" font-weight="normal" text-anchor="start" fill="#000" textLength="27.8" lengthAdjust="spacingAndGlyphs" >21.6</text>
<text x="255.3" y="1144.2" font-size="16.3" font-family="Liberation Sans" font-weight="normal" text-anchor="start" fill="#000" textLength="123.7" lengthAdjust="spacingAndGlyphs" >RND-NVH512S</text>
<text x="387.7" y="1144.2" font-size="16.3" font-family="Liberation Sans" font-weight="normal" text-anchor="start" fill="#000" textLength="123.7" lengthAdjust="spacingAndGlyphs" >RND-NVH512S</text>
<text x="514.7" y="1142.6" font-size="15.2" font-family="Liberation Serif" font-weight="normal" text-anchor="start" fill="#000" textLength="24" lengthAdjust="spacingAndGlyphs" >590</text>
<text x="550.8" y="1142.6" font-size="15.2" font-family="Liberation Serif" font-weight="normal" text-anchor="start" fill="#000" textLength="32.2" lengthAdjust="spacingAndGlyphs" >1200</text>
<text x="607.9" y="1142.6" font-size="15.2" font-family="Liberation Serif" font-weight="normal" text-anchor="middle" fill="#000" textLength="15.8" lengthAdjust="spacingAndGlyphs" >56</text>
<text x="668.2" y="1142.6" font-size="15.2" font-family="Liberation Serif" font-weight="normal" text-anchor="middle" fill="#000" textLength="32.0" lengthAdjust="spacingAndGlyphs" >1155</text>
<text x="729.5" y="1142.6" font-size="15.2" font-family="Liberation Sans" font-weight="normal" text-anchor="middle" fill="#000" textLength="15.6" lengthAdjust="spacingAndGlyphs" >67</text>
<text x="795.6" y="1142.6" font-size="15.2" font-family="Liberation Sans" font-weight="normal" text-anchor="middle" fill="#000" textLength="23.3" lengthAdjust="spacingAndGlyphs" >107</text>
<text x="857.8" y="1142.6" font-size="15.2" font-family="Liberation Serif" font-weight="normal" text-anchor="middle" fill="#000" textLength="15.6" lengthAdjust="spacingAndGlyphs" >10</text>
<text x="908" y="1142.6" font-size="15.2" font-family="Liberation Serif" font-weight="normal" text-anchor="start" fill="#000" textLength="31" lengthAdjust="spacingAndGlyphs" letter-spacing="1">25.9</text>
</svg></body></html>
